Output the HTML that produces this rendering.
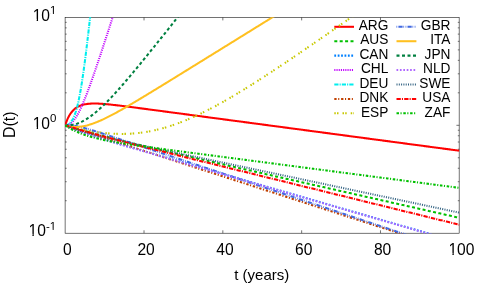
<!DOCTYPE html>
<html><head><meta charset="utf-8"><title>D(t)</title>
<style>html,body{margin:0;padding:0;background:#fff;}body{width:485px;height:291px;overflow:hidden;position:relative;font-family:"Liberation Sans",sans-serif;}</style>
</head><body>
<svg width="485" height="291" viewBox="0 0 485 291" style="position:absolute;left:0;top:0;will-change:transform">
<defs><clipPath id="c"><rect x="64.9" y="17.15" width="394.6" height="216.39999999999998"/></clipPath></defs>
<g stroke="#000" stroke-width="0.55" fill="none">
<rect x="65.1" y="17.5" width="394.04999999999995" height="215.7"/>
<path d="M144.02,233.2 v-2.9 M144.02,17.5 v2.9"/>
<path d="M222.84,233.2 v-2.9 M222.84,17.5 v2.9"/>
<path d="M301.66,233.2 v-2.9 M301.66,17.5 v2.9"/>
<path d="M380.48,233.2 v-2.9 M380.48,17.5 v2.9"/>
<path d="M65.2,125.30 h2.9 M459.3,125.30 h-2.9"/>
<path d="M65.2,200.72 h1.5 M459.3,200.72 h-1.5"/>
<path d="M65.2,181.72 h1.5 M459.3,181.72 h-1.5"/>
<path d="M65.2,168.24 h1.5 M459.3,168.24 h-1.5"/>
<path d="M65.2,157.78 h1.5 M459.3,157.78 h-1.5"/>
<path d="M65.2,149.24 h1.5 M459.3,149.24 h-1.5"/>
<path d="M65.2,142.01 h1.5 M459.3,142.01 h-1.5"/>
<path d="M65.2,135.76 h1.5 M459.3,135.76 h-1.5"/>
<path d="M65.2,130.24 h1.5 M459.3,130.24 h-1.5"/>
<path d="M65.2,92.82 h1.5 M459.3,92.82 h-1.5"/>
<path d="M65.2,73.82 h1.5 M459.3,73.82 h-1.5"/>
<path d="M65.2,60.34 h1.5 M459.3,60.34 h-1.5"/>
<path d="M65.2,49.88 h1.5 M459.3,49.88 h-1.5"/>
<path d="M65.2,41.34 h1.5 M459.3,41.34 h-1.5"/>
<path d="M65.2,34.11 h1.5 M459.3,34.11 h-1.5"/>
<path d="M65.2,27.86 h1.5 M459.3,27.86 h-1.5"/>
<path d="M65.2,22.34 h1.5 M459.3,22.34 h-1.5"/>
</g>
<g fill="none" stroke-linecap="butt" stroke-linejoin="round">
<path clip-path="url(#c)" d="M65.20,125.30 L66.19,122.35 L67.17,119.83 L68.16,117.67 L69.14,115.80 L70.13,114.17 L71.11,112.76 L72.10,111.52 L73.08,110.44 L74.07,109.49 L75.05,108.65 L76.04,107.91 L77.02,107.27 L78.01,106.70 L78.99,106.21 L79.98,105.77 L80.96,105.39 L81.95,105.06 L82.93,104.77 L83.92,104.53 L84.91,104.32 L85.89,104.14 L86.88,103.99 L87.86,103.86 L88.85,103.76 L89.83,103.68 L90.82,103.62 L91.80,103.58 L92.79,103.55 L93.77,103.54 L94.76,103.54 L95.74,103.55 L96.73,103.57 L97.71,103.60 L98.70,103.64 L99.68,103.69 L100.67,103.75 L101.65,103.81 L102.64,103.88 L103.62,103.96 L104.61,104.03 L105.60,104.12 L106.58,104.21 L107.57,104.30 L108.55,104.39 L109.54,104.49 L110.52,104.59 L111.51,104.70 L112.49,104.80 L113.48,104.91 L114.46,105.02 L115.45,105.13 L116.43,105.25 L117.42,105.36 L118.40,105.48 L119.39,105.60 L120.37,105.72 L121.36,105.84 L122.34,105.96 L123.33,106.08 L124.31,106.20 L125.30,106.33 L126.29,106.45 L127.27,106.58 L128.26,106.70 L129.24,106.83 L130.23,106.95 L131.21,107.08 L132.20,107.21 L133.18,107.34 L134.17,107.46 L135.15,107.59 L136.14,107.72 L137.12,107.85 L138.11,107.98 L139.09,108.11 L140.08,108.24 L141.06,108.37 L142.05,108.50 L143.03,108.62 L144.02,108.75 L145.01,108.88 L145.99,109.01 L146.98,109.14 L147.96,109.27 L148.95,109.41 L149.93,109.54 L150.92,109.67 L151.90,109.80 L152.89,109.93 L153.87,110.06 L154.86,110.19 L155.84,110.32 L156.83,110.45 L157.81,110.58 L158.80,110.71 L159.78,110.84 L160.77,110.97 L161.75,111.10 L162.74,111.23 L163.73,111.37 L164.71,111.50 L165.70,111.63 L166.68,111.76 L167.67,111.89 L168.65,112.02 L169.64,112.15 L170.62,112.28 L171.61,112.41 L172.59,112.54 L173.58,112.68 L174.56,112.81 L175.55,112.94 L176.53,113.07 L177.52,113.20 L178.50,113.33 L179.49,113.46 L180.47,113.59 L181.46,113.72 L182.44,113.86 L183.43,113.99 L184.42,114.12 L185.40,114.25 L186.39,114.38 L187.37,114.51 L188.36,114.64 L189.34,114.77 L190.33,114.90 L191.31,115.04 L192.30,115.17 L193.28,115.30 L194.27,115.43 L195.25,115.56 L196.24,115.69 L197.22,115.82 L198.21,115.95 L199.19,116.08 L200.18,116.22 L201.16,116.35 L202.15,116.48 L203.13,116.61 L204.12,116.74 L205.11,116.87 L206.09,117.00 L207.08,117.13 L208.06,117.26 L209.05,117.40 L210.03,117.53 L211.02,117.66 L212.00,117.79 L212.99,117.92 L213.97,118.05 L214.96,118.18 L215.94,118.31 L216.93,118.44 L217.91,118.58 L218.90,118.71 L219.88,118.84 L220.87,118.97 L221.85,119.10 L222.84,119.23 L223.83,119.36 L224.81,119.49 L225.80,119.63 L226.78,119.76 L227.77,119.89 L228.75,120.02 L229.74,120.15 L230.72,120.28 L231.71,120.41 L232.69,120.54 L233.68,120.67 L234.66,120.81 L235.65,120.94 L236.63,121.07 L237.62,121.20 L238.60,121.33 L239.59,121.46 L240.57,121.59 L241.56,121.72 L242.55,121.85 L243.53,121.99 L244.52,122.12 L245.50,122.25 L246.49,122.38 L247.47,122.51 L248.46,122.64 L249.44,122.77 L250.43,122.90 L251.41,123.03 L252.40,123.17 L253.38,123.30 L254.37,123.43 L255.35,123.56 L256.34,123.69 L257.32,123.82 L258.31,123.95 L259.29,124.08 L260.28,124.21 L261.26,124.35 L262.25,124.48 L263.24,124.61 L264.22,124.74 L265.21,124.87 L266.19,125.00 L267.18,125.13 L268.16,125.26 L269.15,125.40 L270.13,125.53 L271.12,125.66 L272.10,125.79 L273.09,125.92 L274.07,126.05 L275.06,126.18 L276.04,126.31 L277.03,126.44 L278.01,126.58 L279.00,126.71 L279.98,126.84 L280.97,126.97 L281.95,127.10 L282.94,127.23 L283.93,127.36 L284.91,127.49 L285.90,127.62 L286.88,127.76 L287.87,127.89 L288.85,128.02 L289.84,128.15 L290.82,128.28 L291.81,128.41 L292.79,128.54 L293.78,128.67 L294.76,128.80 L295.75,128.94 L296.73,129.07 L297.72,129.20 L298.70,129.33 L299.69,129.46 L300.67,129.59 L301.66,129.72 L302.65,129.85 L303.63,129.99 L304.62,130.12 L305.60,130.25 L306.59,130.38 L307.57,130.51 L308.56,130.64 L309.54,130.77 L310.53,130.90 L311.51,131.03 L312.50,131.17 L313.48,131.30 L314.47,131.43 L315.45,131.56 L316.44,131.69 L317.42,131.82 L318.41,131.95 L319.39,132.08 L320.38,132.21 L321.37,132.35 L322.35,132.48 L323.34,132.61 L324.32,132.74 L325.31,132.87 L326.29,133.00 L327.28,133.13 L328.26,133.26 L329.25,133.39 L330.23,133.53 L331.22,133.66 L332.20,133.79 L333.19,133.92 L334.17,134.05 L335.16,134.18 L336.14,134.31 L337.13,134.44 L338.11,134.57 L339.10,134.71 L340.08,134.84 L341.07,134.97 L342.06,135.10 L343.04,135.23 L344.03,135.36 L345.01,135.49 L346.00,135.62 L346.98,135.76 L347.97,135.89 L348.95,136.02 L349.94,136.15 L350.92,136.28 L351.91,136.41 L352.89,136.54 L353.88,136.67 L354.86,136.80 L355.85,136.94 L356.83,137.07 L357.82,137.20 L358.80,137.33 L359.79,137.46 L360.77,137.59 L361.76,137.72 L362.75,137.85 L363.73,137.98 L364.72,138.12 L365.70,138.25 L366.69,138.38 L367.67,138.51 L368.66,138.64 L369.64,138.77 L370.63,138.90 L371.61,139.03 L372.60,139.16 L373.58,139.30 L374.57,139.43 L375.55,139.56 L376.54,139.69 L377.52,139.82 L378.51,139.95 L379.49,140.08 L380.48,140.21 L381.47,140.35 L382.45,140.48 L383.44,140.61 L384.42,140.74 L385.41,140.87 L386.39,141.00 L387.38,141.13 L388.36,141.26 L389.35,141.39 L390.33,141.53 L391.32,141.66 L392.30,141.79 L393.29,141.92 L394.27,142.05 L395.26,142.18 L396.24,142.31 L397.23,142.44 L398.21,142.57 L399.20,142.71 L400.19,142.84 L401.17,142.97 L402.16,143.10 L403.14,143.23 L404.13,143.36 L405.11,143.49 L406.10,143.62 L407.08,143.75 L408.07,143.89 L409.05,144.02 L410.04,144.15 L411.02,144.28 L412.01,144.41 L412.99,144.54 L413.98,144.67 L414.96,144.80 L415.95,144.93 L416.93,145.07 L417.92,145.20 L418.90,145.33 L419.89,145.46 L420.88,145.59 L421.86,145.72 L422.85,145.85 L423.83,145.98 L424.82,146.12 L425.80,146.25 L426.79,146.38 L427.77,146.51 L428.76,146.64 L429.74,146.77 L430.73,146.90 L431.71,147.03 L432.70,147.16 L433.68,147.30 L434.67,147.43 L435.65,147.56 L436.64,147.69 L437.62,147.82 L438.61,147.95 L439.59,148.08 L440.58,148.21 L441.57,148.34 L442.55,148.48 L443.54,148.61 L444.52,148.74 L445.51,148.87 L446.49,149.00 L447.48,149.13 L448.46,149.26 L449.45,149.39 L450.43,149.52 L451.42,149.66 L452.40,149.79 L453.39,149.92 L454.37,150.05 L455.36,150.18 L456.34,150.31 L457.33,150.44 L458.31,150.57 L459.30,150.71" stroke="#ff0000" stroke-width="2.05"/>
<path d="M334.3,26.80 H354.0" stroke="#ff0000" stroke-width="2.05"/>
<path clip-path="url(#c)" d="M65.20,125.30 L66.19,125.60 L67.17,125.90 L68.16,126.20 L69.14,126.49 L70.13,126.78 L71.11,127.08 L72.10,127.37 L73.08,127.66 L74.07,127.94 L75.05,128.23 L76.04,128.52 L77.02,128.80 L78.01,129.08 L78.99,129.36 L79.98,129.64 L80.96,129.92 L81.95,130.20 L82.93,130.48 L83.92,130.75 L84.91,131.03 L85.89,131.30 L86.88,131.57 L87.86,131.84 L88.85,132.11 L89.83,132.38 L90.82,132.65 L91.80,132.91 L92.79,133.18 L93.77,133.44 L94.76,133.71 L95.74,133.97 L96.73,134.23 L97.71,134.50 L98.70,134.76 L99.68,135.02 L100.67,135.27 L101.65,135.53 L102.64,135.79 L103.62,136.05 L104.61,136.30 L105.60,136.56 L106.58,136.81 L107.57,137.06 L108.55,137.32 L109.54,137.57 L110.52,137.82 L111.51,138.07 L112.49,138.32 L113.48,138.57 L114.46,138.82 L115.45,139.07 L116.43,139.32 L117.42,139.57 L118.40,139.81 L119.39,140.06 L120.37,140.30 L121.36,140.55 L122.34,140.79 L123.33,141.04 L124.31,141.28 L125.30,141.53 L126.29,141.77 L127.27,142.01 L128.26,142.25 L129.24,142.49 L130.23,142.73 L131.21,142.98 L132.20,143.22 L133.18,143.46 L134.17,143.69 L135.15,143.93 L136.14,144.17 L137.12,144.41 L138.11,144.65 L139.09,144.89 L140.08,145.12 L141.06,145.36 L142.05,145.60 L143.03,145.83 L144.02,146.07 L145.01,146.31 L145.99,146.54 L146.98,146.78 L147.96,147.01 L148.95,147.25 L149.93,147.48 L150.92,147.71 L151.90,147.95 L152.89,148.18 L153.87,148.41 L154.86,148.65 L155.84,148.88 L156.83,149.11 L157.81,149.34 L158.80,149.58 L159.78,149.81 L160.77,150.04 L161.75,150.27 L162.74,150.50 L163.73,150.73 L164.71,150.96 L165.70,151.19 L166.68,151.43 L167.67,151.66 L168.65,151.89 L169.64,152.12 L170.62,152.35 L171.61,152.57 L172.59,152.80 L173.58,153.03 L174.56,153.26 L175.55,153.49 L176.53,153.72 L177.52,153.95 L178.50,154.18 L179.49,154.41 L180.47,154.63 L181.46,154.86 L182.44,155.09 L183.43,155.32 L184.42,155.55 L185.40,155.77 L186.39,156.00 L187.37,156.23 L188.36,156.46 L189.34,156.68 L190.33,156.91 L191.31,157.14 L192.30,157.36 L193.28,157.59 L194.27,157.82 L195.25,158.04 L196.24,158.27 L197.22,158.50 L198.21,158.72 L199.19,158.95 L200.18,159.17 L201.16,159.40 L202.15,159.63 L203.13,159.85 L204.12,160.08 L205.11,160.30 L206.09,160.53 L207.08,160.75 L208.06,160.98 L209.05,161.21 L210.03,161.43 L211.02,161.66 L212.00,161.88 L212.99,162.11 L213.97,162.33 L214.96,162.56 L215.94,162.78 L216.93,163.01 L217.91,163.23 L218.90,163.46 L219.88,163.68 L220.87,163.90 L221.85,164.13 L222.84,164.35 L223.83,164.58 L224.81,164.80 L225.80,165.03 L226.78,165.25 L227.77,165.48 L228.75,165.70 L229.74,165.92 L230.72,166.15 L231.71,166.37 L232.69,166.60 L233.68,166.82 L234.66,167.04 L235.65,167.27 L236.63,167.49 L237.62,167.72 L238.60,167.94 L239.59,168.16 L240.57,168.39 L241.56,168.61 L242.55,168.83 L243.53,169.06 L244.52,169.28 L245.50,169.51 L246.49,169.73 L247.47,169.95 L248.46,170.18 L249.44,170.40 L250.43,170.62 L251.41,170.85 L252.40,171.07 L253.38,171.29 L254.37,171.52 L255.35,171.74 L256.34,171.96 L257.32,172.19 L258.31,172.41 L259.29,172.63 L260.28,172.86 L261.26,173.08 L262.25,173.30 L263.24,173.53 L264.22,173.75 L265.21,173.97 L266.19,174.19 L267.18,174.42 L268.16,174.64 L269.15,174.86 L270.13,175.09 L271.12,175.31 L272.10,175.53 L273.09,175.76 L274.07,175.98 L275.06,176.20 L276.04,176.42 L277.03,176.65 L278.01,176.87 L279.00,177.09 L279.98,177.32 L280.97,177.54 L281.95,177.76 L282.94,177.98 L283.93,178.21 L284.91,178.43 L285.90,178.65 L286.88,178.88 L287.87,179.10 L288.85,179.32 L289.84,179.54 L290.82,179.77 L291.81,179.99 L292.79,180.21 L293.78,180.44 L294.76,180.66 L295.75,180.88 L296.73,181.10 L297.72,181.33 L298.70,181.55 L299.69,181.77 L300.67,181.99 L301.66,182.22 L302.65,182.44 L303.63,182.66 L304.62,182.88 L305.60,183.11 L306.59,183.33 L307.57,183.55 L308.56,183.77 L309.54,184.00 L310.53,184.22 L311.51,184.44 L312.50,184.66 L313.48,184.89 L314.47,185.11 L315.45,185.33 L316.44,185.56 L317.42,185.78 L318.41,186.00 L319.39,186.22 L320.38,186.45 L321.37,186.67 L322.35,186.89 L323.34,187.11 L324.32,187.34 L325.31,187.56 L326.29,187.78 L327.28,188.00 L328.26,188.22 L329.25,188.45 L330.23,188.67 L331.22,188.89 L332.20,189.11 L333.19,189.34 L334.17,189.56 L335.16,189.78 L336.14,190.00 L337.13,190.23 L338.11,190.45 L339.10,190.67 L340.08,190.89 L341.07,191.12 L342.06,191.34 L343.04,191.56 L344.03,191.78 L345.01,192.01 L346.00,192.23 L346.98,192.45 L347.97,192.67 L348.95,192.90 L349.94,193.12 L350.92,193.34 L351.91,193.56 L352.89,193.79 L353.88,194.01 L354.86,194.23 L355.85,194.45 L356.83,194.67 L357.82,194.90 L358.80,195.12 L359.79,195.34 L360.77,195.56 L361.76,195.79 L362.75,196.01 L363.73,196.23 L364.72,196.45 L365.70,196.68 L366.69,196.90 L367.67,197.12 L368.66,197.34 L369.64,197.57 L370.63,197.79 L371.61,198.01 L372.60,198.23 L373.58,198.45 L374.57,198.68 L375.55,198.90 L376.54,199.12 L377.52,199.34 L378.51,199.57 L379.49,199.79 L380.48,200.01 L381.47,200.23 L382.45,200.46 L383.44,200.68 L384.42,200.90 L385.41,201.12 L386.39,201.34 L387.38,201.57 L388.36,201.79 L389.35,202.01 L390.33,202.23 L391.32,202.46 L392.30,202.68 L393.29,202.90 L394.27,203.12 L395.26,203.35 L396.24,203.57 L397.23,203.79 L398.21,204.01 L399.20,204.23 L400.19,204.46 L401.17,204.68 L402.16,204.90 L403.14,205.12 L404.13,205.35 L405.11,205.57 L406.10,205.79 L407.08,206.01 L408.07,206.24 L409.05,206.46 L410.04,206.68 L411.02,206.90 L412.01,207.12 L412.99,207.35 L413.98,207.57 L414.96,207.79 L415.95,208.01 L416.93,208.24 L417.92,208.46 L418.90,208.68 L419.89,208.90 L420.88,209.13 L421.86,209.35 L422.85,209.57 L423.83,209.79 L424.82,210.01 L425.80,210.24 L426.79,210.46 L427.77,210.68 L428.76,210.90 L429.74,211.13 L430.73,211.35 L431.71,211.57 L432.70,211.79 L433.68,212.02 L434.67,212.24 L435.65,212.46 L436.64,212.68 L437.62,212.90 L438.61,213.13 L439.59,213.35 L440.58,213.57 L441.57,213.79 L442.55,214.02 L443.54,214.24 L444.52,214.46 L445.51,214.68 L446.49,214.90 L447.48,215.13 L448.46,215.35 L449.45,215.57 L450.43,215.79 L451.42,216.02 L452.40,216.24 L453.39,216.46 L454.37,216.68 L455.36,216.91 L456.34,217.13 L457.33,217.35 L458.31,217.57 L459.30,217.79" stroke="#00c000" stroke-width="2.05" stroke-dasharray="3.0 2.4"/>
<path d="M334.3,41.22 H354.0" stroke="#00c000" stroke-width="2.05" stroke-dasharray="3.0 2.4"/>
<path clip-path="url(#c)" d="M65.20,125.30 L66.19,125.77 L67.17,126.23 L68.16,126.68 L69.14,127.12 L70.13,127.56 L71.11,127.98 L72.10,128.40 L73.08,128.81 L74.07,129.21 L75.05,129.61 L76.04,130.00 L77.02,130.38 L78.01,130.76 L78.99,131.14 L79.98,131.51 L80.96,131.87 L81.95,132.23 L82.93,132.58 L83.92,132.93 L84.91,133.28 L85.89,133.63 L86.88,133.97 L87.86,134.30 L88.85,134.64 L89.83,134.97 L90.82,135.30 L91.80,135.63 L92.79,135.95 L93.77,136.27 L94.76,136.59 L95.74,136.91 L96.73,137.22 L97.71,137.54 L98.70,137.85 L99.68,138.16 L100.67,138.47 L101.65,138.78 L102.64,139.09 L103.62,139.39 L104.61,139.70 L105.60,140.00 L106.58,140.30 L107.57,140.60 L108.55,140.90 L109.54,141.20 L110.52,141.50 L111.51,141.80 L112.49,142.09 L113.48,142.39 L114.46,142.69 L115.45,142.98 L116.43,143.28 L117.42,143.57 L118.40,143.86 L119.39,144.16 L120.37,144.45 L121.36,144.74 L122.34,145.03 L123.33,145.33 L124.31,145.62 L125.30,145.91 L126.29,146.20 L127.27,146.49 L128.26,146.78 L129.24,147.07 L130.23,147.36 L131.21,147.64 L132.20,147.93 L133.18,148.22 L134.17,148.51 L135.15,148.80 L136.14,149.09 L137.12,149.37 L138.11,149.66 L139.09,149.95 L140.08,150.24 L141.06,150.53 L142.05,150.81 L143.03,151.10 L144.02,151.39 L145.01,151.67 L145.99,151.96 L146.98,152.25 L147.96,152.53 L148.95,152.82 L149.93,153.11 L150.92,153.39 L151.90,153.68 L152.89,153.97 L153.87,154.25 L154.86,154.54 L155.84,154.82 L156.83,155.11 L157.81,155.40 L158.80,155.68 L159.78,155.97 L160.77,156.25 L161.75,156.54 L162.74,156.83 L163.73,157.11 L164.71,157.40 L165.70,157.68 L166.68,157.97 L167.67,158.25 L168.65,158.54 L169.64,158.83 L170.62,159.11 L171.61,159.40 L172.59,159.68 L173.58,159.97 L174.56,160.25 L175.55,160.54 L176.53,160.82 L177.52,161.11 L178.50,161.40 L179.49,161.68 L180.47,161.97 L181.46,162.25 L182.44,162.54 L183.43,162.82 L184.42,163.11 L185.40,163.39 L186.39,163.68 L187.37,163.96 L188.36,164.25 L189.34,164.53 L190.33,164.82 L191.31,165.11 L192.30,165.39 L193.28,165.68 L194.27,165.96 L195.25,166.25 L196.24,166.53 L197.22,166.82 L198.21,167.10 L199.19,167.39 L200.18,167.67 L201.16,167.96 L202.15,168.24 L203.13,168.53 L204.12,168.81 L205.11,169.10 L206.09,169.39 L207.08,169.67 L208.06,169.96 L209.05,170.24 L210.03,170.53 L211.02,170.81 L212.00,171.10 L212.99,171.38 L213.97,171.67 L214.96,171.95 L215.94,172.24 L216.93,172.52 L217.91,172.81 L218.90,173.09 L219.88,173.38 L220.87,173.66 L221.85,173.95 L222.84,174.24 L223.83,174.52 L224.81,174.81 L225.80,175.09 L226.78,175.38 L227.77,175.66 L228.75,175.95 L229.74,176.23 L230.72,176.52 L231.71,176.80 L232.69,177.09 L233.68,177.37 L234.66,177.66 L235.65,177.94 L236.63,178.23 L237.62,178.51 L238.60,178.80 L239.59,179.09 L240.57,179.37 L241.56,179.66 L242.55,179.94 L243.53,180.23 L244.52,180.51 L245.50,180.80 L246.49,181.08 L247.47,181.37 L248.46,181.65 L249.44,181.94 L250.43,182.22 L251.41,182.51 L252.40,182.79 L253.38,183.08 L254.37,183.36 L255.35,183.65 L256.34,183.93 L257.32,184.22 L258.31,184.51 L259.29,184.79 L260.28,185.08 L261.26,185.36 L262.25,185.65 L263.24,185.93 L264.22,186.22 L265.21,186.50 L266.19,186.79 L267.18,187.07 L268.16,187.36 L269.15,187.64 L270.13,187.93 L271.12,188.21 L272.10,188.50 L273.09,188.78 L274.07,189.07 L275.06,189.35 L276.04,189.64 L277.03,189.93 L278.01,190.21 L279.00,190.50 L279.98,190.78 L280.97,191.07 L281.95,191.35 L282.94,191.64 L283.93,191.92 L284.91,192.21 L285.90,192.49 L286.88,192.78 L287.87,193.06 L288.85,193.35 L289.84,193.63 L290.82,193.92 L291.81,194.20 L292.79,194.49 L293.78,194.77 L294.76,195.06 L295.75,195.35 L296.73,195.63 L297.72,195.92 L298.70,196.20 L299.69,196.49 L300.67,196.77 L301.66,197.06 L302.65,197.34 L303.63,197.63 L304.62,197.91 L305.60,198.20 L306.59,198.48 L307.57,198.77 L308.56,199.05 L309.54,199.34 L310.53,199.62 L311.51,199.91 L312.50,200.19 L313.48,200.48 L314.47,200.77 L315.45,201.05 L316.44,201.34 L317.42,201.62 L318.41,201.91 L319.39,202.19 L320.38,202.48 L321.37,202.76 L322.35,203.05 L323.34,203.33 L324.32,203.62 L325.31,203.90 L326.29,204.19 L327.28,204.47 L328.26,204.76 L329.25,205.04 L330.23,205.33 L331.22,205.61 L332.20,205.90 L333.19,206.19 L334.17,206.47 L335.16,206.76 L336.14,207.04 L337.13,207.33 L338.11,207.61 L339.10,207.90 L340.08,208.18 L341.07,208.47 L342.06,208.75 L343.04,209.04 L344.03,209.32 L345.01,209.61 L346.00,209.89 L346.98,210.18 L347.97,210.46 L348.95,210.75 L349.94,211.03 L350.92,211.32 L351.91,211.61 L352.89,211.89 L353.88,212.18 L354.86,212.46 L355.85,212.75 L356.83,213.03 L357.82,213.32 L358.80,213.60 L359.79,213.89 L360.77,214.17 L361.76,214.46 L362.75,214.74 L363.73,215.03 L364.72,215.31 L365.70,215.60 L366.69,215.88 L367.67,216.17 L368.66,216.45 L369.64,216.74 L370.63,217.03 L371.61,217.31 L372.60,217.60 L373.58,217.88 L374.57,218.17 L375.55,218.45 L376.54,218.74 L377.52,219.02 L378.51,219.31 L379.49,219.59 L380.48,219.88 L381.47,220.16 L382.45,220.45 L383.44,220.73 L384.42,221.02 L385.41,221.30 L386.39,221.59 L387.38,221.87 L388.36,222.16 L389.35,222.45 L390.33,222.73 L391.32,223.02 L392.30,223.30 L393.29,223.59 L394.27,223.87 L395.26,224.16 L396.24,224.44 L397.23,224.73 L398.21,225.01 L399.20,225.30 L400.19,225.58 L401.17,225.87 L402.16,226.15 L403.14,226.44 L404.13,226.72 L405.11,227.01 L406.10,227.29 L407.08,227.58 L408.07,227.87 L409.05,228.15 L410.04,228.44 L411.02,228.72 L412.01,229.01 L412.99,229.29 L413.98,229.58 L414.96,229.86 L415.95,230.15 L416.93,230.43 L417.92,230.72 L418.90,231.00 L419.89,231.29 L420.88,231.57 L421.86,231.86 L422.85,232.14 L423.83,232.43 L424.82,232.72 L425.80,233.00 L426.79,233.29 L427.77,233.57 L428.76,233.86 L429.74,234.14 L430.73,234.43 L431.71,234.71 L432.70,235.00 L433.68,235.28 L434.67,235.57 L435.65,235.85 L436.64,236.14 L437.62,236.42 L438.61,236.71 L439.59,236.99 L440.58,237.28 L441.57,237.56 L442.55,237.85 L443.54,238.14 L444.52,238.42 L445.51,238.71 L446.49,238.99 L447.48,239.28 L448.46,239.56 L449.45,239.85 L450.43,240.13 L451.42,240.42 L452.40,240.70 L453.39,240.99 L454.37,241.27 L455.36,241.56 L456.34,241.84 L457.33,242.13 L458.31,242.41 L459.30,242.70" stroke="#0080ff" stroke-width="2.05" stroke-dasharray="1.8 1.6" stroke-dashoffset="0.05" transform="translate(0,-0.25)"/>
<path d="M334.3,55.64 H354.0" stroke="#0080ff" stroke-width="2.05" stroke-dasharray="1.8 1.6"/>
<path clip-path="url(#c)" d="M65.20,125.30 L66.19,125.39 L67.17,125.32 L68.16,125.07 L69.14,124.65 L70.13,124.06 L71.11,123.31 L72.10,122.40 L73.08,121.32 L74.07,120.10 L75.05,118.72 L76.04,117.21 L77.02,115.57 L78.01,113.80 L78.99,111.91 L79.98,109.92 L80.96,107.83 L81.95,105.64 L82.93,103.36 L83.92,101.01 L84.91,98.59 L85.89,96.10 L86.88,93.55 L87.86,90.95 L88.85,88.30 L89.83,85.60 L90.82,82.87 L91.80,80.10 L92.79,77.30 L93.77,74.47 L94.76,71.61 L95.74,68.73 L96.73,65.83 L97.71,62.91 L98.70,59.98 L99.68,57.03 L100.67,54.07 L101.65,51.10 L102.64,48.11 L103.62,45.12 L104.61,42.12 L105.60,39.11 L106.58,36.10 L107.57,33.08 L108.55,30.05 L109.54,27.02 L110.52,23.99 L111.51,20.95 L112.49,17.91 L113.48,14.87 L114.46,11.83 L115.45,8.78 L116.43,5.73 L117.42,2.68 L118.40,-0.37 L119.39,-3.43 L120.37,-6.48 L121.36,-9.54 L122.34,-12.60 L123.33,-15.65" stroke="#c000ff" stroke-width="2.05" stroke-dasharray="1.1 1.1"/>
<path d="M334.3,70.06 H354.0" stroke="#c000ff" stroke-width="2.05" stroke-dasharray="1.1 1.1"/>
<path clip-path="url(#c)" d="M65.20,125.30 L66.19,125.13 L67.17,124.84 L68.16,124.39 L69.14,123.75 L70.13,122.90 L71.11,121.80 L72.10,120.40 L73.08,118.66 L74.07,116.54 L75.05,113.99 L76.04,110.98 L77.02,107.48 L78.01,103.45 L78.99,98.89 L79.98,93.80 L80.96,88.19 L81.95,82.08 L82.93,75.50 L83.92,68.49 L84.91,61.09 L85.89,53.34 L86.88,45.29 L87.86,36.98 L88.85,28.45 L89.83,19.73 L90.82,10.86 L91.80,1.85 L92.79,-7.27 L93.77,-16.48" stroke="#00eeee" stroke-width="2.05" stroke-dasharray="4.2 1.1 1.1 1.1"/>
<path d="M334.3,84.48 H354.0" stroke="#00eeee" stroke-width="2.05" stroke-dasharray="4.2 1.1 1.1 1.1"/>
<path clip-path="url(#c)" d="M65.20,125.30 L66.19,125.62 L67.17,125.94 L68.16,126.26 L69.14,126.59 L70.13,126.91 L71.11,127.23 L72.10,127.55 L73.08,127.87 L74.07,128.19 L75.05,128.51 L76.04,128.83 L77.02,129.15 L78.01,129.47 L78.99,129.80 L79.98,130.12 L80.96,130.44 L81.95,130.76 L82.93,131.08 L83.92,131.40 L84.91,131.72 L85.89,132.04 L86.88,132.36 L87.86,132.68 L88.85,133.00 L89.83,133.32 L90.82,133.64 L91.80,133.96 L92.79,134.28 L93.77,134.60 L94.76,134.92 L95.74,135.24 L96.73,135.56 L97.71,135.88 L98.70,136.21 L99.68,136.53 L100.67,136.85 L101.65,137.17 L102.64,137.49 L103.62,137.81 L104.61,138.13 L105.60,138.45 L106.58,138.77 L107.57,139.08 L108.55,139.40 L109.54,139.72 L110.52,140.04 L111.51,140.36 L112.49,140.68 L113.48,141.00 L114.46,141.32 L115.45,141.64 L116.43,141.96 L117.42,142.28 L118.40,142.60 L119.39,142.92 L120.37,143.24 L121.36,143.56 L122.34,143.88 L123.33,144.20 L124.31,144.52 L125.30,144.84 L126.29,145.16 L127.27,145.48 L128.26,145.80 L129.24,146.12 L130.23,146.43 L131.21,146.75 L132.20,147.07 L133.18,147.39 L134.17,147.71 L135.15,148.03 L136.14,148.35 L137.12,148.67 L138.11,148.99 L139.09,149.31 L140.08,149.63 L141.06,149.95 L142.05,150.26 L143.03,150.58 L144.02,150.90 L145.01,151.22 L145.99,151.54 L146.98,151.86 L147.96,152.18 L148.95,152.50 L149.93,152.82 L150.92,153.14 L151.90,153.45 L152.89,153.77 L153.87,154.09 L154.86,154.41 L155.84,154.73 L156.83,155.05 L157.81,155.37 L158.80,155.69 L159.78,156.00 L160.77,156.32 L161.75,156.64 L162.74,156.96 L163.73,157.28 L164.71,157.60 L165.70,157.92 L166.68,158.23 L167.67,158.55 L168.65,158.87 L169.64,159.19 L170.62,159.51 L171.61,159.83 L172.59,160.15 L173.58,160.46 L174.56,160.78 L175.55,161.10 L176.53,161.42 L177.52,161.74 L178.50,162.06 L179.49,162.37 L180.47,162.69 L181.46,163.01 L182.44,163.33 L183.43,163.65 L184.42,163.97 L185.40,164.29 L186.39,164.60 L187.37,164.92 L188.36,165.24 L189.34,165.56 L190.33,165.88 L191.31,166.19 L192.30,166.51 L193.28,166.83 L194.27,167.15 L195.25,167.47 L196.24,167.79 L197.22,168.10 L198.21,168.42 L199.19,168.74 L200.18,169.06 L201.16,169.38 L202.15,169.69 L203.13,170.01 L204.12,170.33 L205.11,170.65 L206.09,170.97 L207.08,171.29 L208.06,171.60 L209.05,171.92 L210.03,172.24 L211.02,172.56 L212.00,172.88 L212.99,173.19 L213.97,173.51 L214.96,173.83 L215.94,174.15 L216.93,174.47 L217.91,174.78 L218.90,175.10 L219.88,175.42 L220.87,175.74 L221.85,176.06 L222.84,176.37 L223.83,176.69 L224.81,177.01 L225.80,177.33 L226.78,177.64 L227.77,177.96 L228.75,178.28 L229.74,178.60 L230.72,178.92 L231.71,179.23 L232.69,179.55 L233.68,179.87 L234.66,180.19 L235.65,180.51 L236.63,180.82 L237.62,181.14 L238.60,181.46 L239.59,181.78 L240.57,182.09 L241.56,182.41 L242.55,182.73 L243.53,183.05 L244.52,183.37 L245.50,183.68 L246.49,184.00 L247.47,184.32 L248.46,184.64 L249.44,184.95 L250.43,185.27 L251.41,185.59 L252.40,185.91 L253.38,186.23 L254.37,186.54 L255.35,186.86 L256.34,187.18 L257.32,187.50 L258.31,187.81 L259.29,188.13 L260.28,188.45 L261.26,188.77 L262.25,189.08 L263.24,189.40 L264.22,189.72 L265.21,190.04 L266.19,190.35 L267.18,190.67 L268.16,190.99 L269.15,191.31 L270.13,191.63 L271.12,191.94 L272.10,192.26 L273.09,192.58 L274.07,192.90 L275.06,193.21 L276.04,193.53 L277.03,193.85 L278.01,194.17 L279.00,194.48 L279.98,194.80 L280.97,195.12 L281.95,195.44 L282.94,195.75 L283.93,196.07 L284.91,196.39 L285.90,196.71 L286.88,197.02 L287.87,197.34 L288.85,197.66 L289.84,197.98 L290.82,198.29 L291.81,198.61 L292.79,198.93 L293.78,199.25 L294.76,199.56 L295.75,199.88 L296.73,200.20 L297.72,200.52 L298.70,200.83 L299.69,201.15 L300.67,201.47 L301.66,201.79 L302.65,202.10 L303.63,202.42 L304.62,202.74 L305.60,203.06 L306.59,203.37 L307.57,203.69 L308.56,204.01 L309.54,204.33 L310.53,204.64 L311.51,204.96 L312.50,205.28 L313.48,205.60 L314.47,205.91 L315.45,206.23 L316.44,206.55 L317.42,206.87 L318.41,207.18 L319.39,207.50 L320.38,207.82 L321.37,208.13 L322.35,208.45 L323.34,208.77 L324.32,209.09 L325.31,209.40 L326.29,209.72 L327.28,210.04 L328.26,210.36 L329.25,210.67 L330.23,210.99 L331.22,211.31 L332.20,211.63 L333.19,211.94 L334.17,212.26 L335.16,212.58 L336.14,212.90 L337.13,213.21 L338.11,213.53 L339.10,213.85 L340.08,214.16 L341.07,214.48 L342.06,214.80 L343.04,215.12 L344.03,215.43 L345.01,215.75 L346.00,216.07 L346.98,216.39 L347.97,216.70 L348.95,217.02 L349.94,217.34 L350.92,217.66 L351.91,217.97 L352.89,218.29 L353.88,218.61 L354.86,218.92 L355.85,219.24 L356.83,219.56 L357.82,219.88 L358.80,220.19 L359.79,220.51 L360.77,220.83 L361.76,221.15 L362.75,221.46 L363.73,221.78 L364.72,222.10 L365.70,222.41 L366.69,222.73 L367.67,223.05 L368.66,223.37 L369.64,223.68 L370.63,224.00 L371.61,224.32 L372.60,224.64 L373.58,224.95 L374.57,225.27 L375.55,225.59 L376.54,225.91 L377.52,226.22 L378.51,226.54 L379.49,226.86 L380.48,227.17 L381.47,227.49 L382.45,227.81 L383.44,228.13 L384.42,228.44 L385.41,228.76 L386.39,229.08 L387.38,229.39 L388.36,229.71 L389.35,230.03 L390.33,230.35 L391.32,230.66 L392.30,230.98 L393.29,231.30 L394.27,231.62 L395.26,231.93 L396.24,232.25 L397.23,232.57 L398.21,232.88 L399.20,233.20 L400.19,233.52 L401.17,233.84 L402.16,234.15 L403.14,234.47 L404.13,234.79 L405.11,235.11 L406.10,235.42 L407.08,235.74 L408.07,236.06 L409.05,236.37 L410.04,236.69 L411.02,237.01 L412.01,237.33 L412.99,237.64 L413.98,237.96 L414.96,238.28 L415.95,238.59 L416.93,238.91 L417.92,239.23 L418.90,239.55 L419.89,239.86 L420.88,240.18 L421.86,240.50 L422.85,240.82 L423.83,241.13 L424.82,241.45 L425.80,241.77 L426.79,242.08 L427.77,242.40 L428.76,242.72 L429.74,243.04 L430.73,243.35 L431.71,243.67 L432.70,243.99 L433.68,244.30 L434.67,244.62 L435.65,244.94 L436.64,245.26 L437.62,245.57 L438.61,245.89 L439.59,246.21 L440.58,246.52 L441.57,246.84 L442.55,247.16 L443.54,247.48 L444.52,247.79 L445.51,248.11 L446.49,248.43 L447.48,248.75 L448.46,249.06 L449.45,249.38 L450.43,249.70 L451.42,250.01 L452.40,250.33 L453.39,250.65 L454.37,250.97 L455.36,251.28 L456.34,251.60 L457.33,251.92 L458.31,252.23 L459.30,252.55" stroke="#c04000" stroke-width="2.05" stroke-dasharray="2.3 1.6 1.1 1.8"/>
<path d="M334.3,98.90 H354.0" stroke="#c04000" stroke-width="2.05" stroke-dasharray="2.3 1.6 1.1 1.8"/>
<path clip-path="url(#c)" d="M65.20,125.30 L66.19,125.57 L67.17,125.83 L68.16,126.10 L69.14,126.35 L70.13,126.61 L71.11,126.86 L72.10,127.11 L73.08,127.36 L74.07,127.60 L75.05,127.84 L76.04,128.07 L77.02,128.30 L78.01,128.53 L78.99,128.75 L79.98,128.97 L80.96,129.19 L81.95,129.40 L82.93,129.61 L83.92,129.81 L84.91,130.01 L85.89,130.20 L86.88,130.40 L87.86,130.58 L88.85,130.76 L89.83,130.94 L90.82,131.11 L91.80,131.28 L92.79,131.45 L93.77,131.61 L94.76,131.76 L95.74,131.91 L96.73,132.05 L97.71,132.19 L98.70,132.33 L99.68,132.46 L100.67,132.58 L101.65,132.70 L102.64,132.82 L103.62,132.92 L104.61,133.03 L105.60,133.12 L106.58,133.22 L107.57,133.30 L108.55,133.39 L109.54,133.46 L110.52,133.53 L111.51,133.60 L112.49,133.65 L113.48,133.71 L114.46,133.75 L115.45,133.79 L116.43,133.83 L117.42,133.86 L118.40,133.88 L119.39,133.90 L120.37,133.91 L121.36,133.91 L122.34,133.91 L123.33,133.90 L124.31,133.89 L125.30,133.87 L126.29,133.84 L127.27,133.81 L128.26,133.77 L129.24,133.72 L130.23,133.67 L131.21,133.61 L132.20,133.55 L133.18,133.47 L134.17,133.39 L135.15,133.31 L136.14,133.22 L137.12,133.12 L138.11,133.01 L139.09,132.90 L140.08,132.78 L141.06,132.66 L142.05,132.53 L143.03,132.39 L144.02,132.25 L145.01,132.09 L145.99,131.94 L146.98,131.77 L147.96,131.60 L148.95,131.42 L149.93,131.24 L150.92,131.05 L151.90,130.85 L152.89,130.65 L153.87,130.44 L154.86,130.22 L155.84,129.99 L156.83,129.76 L157.81,129.53 L158.80,129.29 L159.78,129.04 L160.77,128.78 L161.75,128.52 L162.74,128.25 L163.73,127.98 L164.71,127.70 L165.70,127.41 L166.68,127.12 L167.67,126.82 L168.65,126.51 L169.64,126.20 L170.62,125.88 L171.61,125.56 L172.59,125.23 L173.58,124.90 L174.56,124.56 L175.55,124.21 L176.53,123.86 L177.52,123.50 L178.50,123.14 L179.49,122.77 L180.47,122.40 L181.46,122.02 L182.44,121.63 L183.43,121.24 L184.42,120.85 L185.40,120.45 L186.39,120.04 L187.37,119.63 L188.36,119.21 L189.34,118.79 L190.33,118.37 L191.31,117.94 L192.30,117.50 L193.28,117.06 L194.27,116.62 L195.25,116.17 L196.24,115.72 L197.22,115.26 L198.21,114.79 L199.19,114.33 L200.18,113.86 L201.16,113.38 L202.15,112.90 L203.13,112.42 L204.12,111.93 L205.11,111.44 L206.09,110.94 L207.08,110.44 L208.06,109.94 L209.05,109.43 L210.03,108.92 L211.02,108.41 L212.00,107.89 L212.99,107.37 L213.97,106.84 L214.96,106.32 L215.94,105.78 L216.93,105.25 L217.91,104.71 L218.90,104.17 L219.88,103.62 L220.87,103.08 L221.85,102.53 L222.84,101.97 L223.83,101.42 L224.81,100.86 L225.80,100.30 L226.78,99.73 L227.77,99.16 L228.75,98.59 L229.74,98.02 L230.72,97.44 L231.71,96.87 L232.69,96.29 L233.68,95.70 L234.66,95.12 L235.65,94.53 L236.63,93.94 L237.62,93.35 L238.60,92.75 L239.59,92.16 L240.57,91.56 L241.56,90.96 L242.55,90.35 L243.53,89.75 L244.52,89.14 L245.50,88.53 L246.49,87.92 L247.47,87.31 L248.46,86.70 L249.44,86.08 L250.43,85.46 L251.41,84.84 L252.40,84.22 L253.38,83.60 L254.37,82.98 L255.35,82.35 L256.34,81.72 L257.32,81.09 L258.31,80.46 L259.29,79.83 L260.28,79.20 L261.26,78.56 L262.25,77.93 L263.24,77.29 L264.22,76.65 L265.21,76.01 L266.19,75.37 L267.18,74.73 L268.16,74.09 L269.15,73.44 L270.13,72.80 L271.12,72.15 L272.10,71.50 L273.09,70.85 L274.07,70.20 L275.06,69.55 L276.04,68.90 L277.03,68.25 L278.01,67.59 L279.00,66.94 L279.98,66.28 L280.97,65.62 L281.95,64.97 L282.94,64.31 L283.93,63.65 L284.91,62.99 L285.90,62.33 L286.88,61.67 L287.87,61.00 L288.85,60.34 L289.84,59.68 L290.82,59.01 L291.81,58.35 L292.79,57.68 L293.78,57.01 L294.76,56.35 L295.75,55.68 L296.73,55.01 L297.72,54.34 L298.70,53.67 L299.69,53.00 L300.67,52.33 L301.66,51.66 L302.65,50.99 L303.63,50.31 L304.62,49.64 L305.60,48.97 L306.59,48.29 L307.57,47.62 L308.56,46.94 L309.54,46.27 L310.53,45.59 L311.51,44.91 L312.50,44.24 L313.48,43.56 L314.47,42.88 L315.45,42.20 L316.44,41.53 L317.42,40.85 L318.41,40.17 L319.39,39.49 L320.38,38.81 L321.37,38.13 L322.35,37.45 L323.34,36.77 L324.32,36.08 L325.31,35.40 L326.29,34.72 L327.28,34.04 L328.26,33.35 L329.25,32.67 L330.23,31.99 L331.22,31.31 L332.20,30.62 L333.19,29.94 L334.17,29.25 L335.16,28.57 L336.14,27.88 L337.13,27.20 L338.11,26.51 L339.10,25.83 L340.08,25.14 L341.07,24.46 L342.06,23.77 L343.04,23.08 L344.03,22.40 L345.01,21.71 L346.00,21.02 L346.98,20.34 L347.97,19.65 L348.95,18.96 L349.94,18.27 L350.92,17.58 L351.91,16.90 L352.89,16.21 L353.88,15.52 L354.86,14.83 L355.85,14.14 L356.83,13.45 L357.82,12.76 L358.80,12.08 L359.79,11.39 L360.77,10.70 L361.76,10.01 L362.75,9.32 L363.73,8.63 L364.72,7.94 L365.70,7.25 L366.69,6.56 L367.67,5.87 L368.66,5.18 L369.64,4.49 L370.63,3.80 L371.61,3.10 L372.60,2.41 L373.58,1.72 L374.57,1.03 L375.55,0.34 L376.54,-0.35 L377.52,-1.04 L378.51,-1.73 L379.49,-2.43 L380.48,-3.12 L381.47,-3.81 L382.45,-4.50 L383.44,-5.19 L384.42,-5.88 L385.41,-6.58 L386.39,-7.27 L387.38,-7.96 L388.36,-8.65 L389.35,-9.35 L390.33,-10.04 L391.32,-10.73 L392.30,-11.42 L393.29,-12.12 L394.27,-12.81" stroke="#c8c800" stroke-width="2.05" stroke-dasharray="1.5 1.2 1.5 4.0"/>
<path d="M334.3,113.32 H354.0" stroke="#c8c800" stroke-width="2.05" stroke-dasharray="1.5 1.2 1.5 4.0"/>
<path clip-path="url(#c)" d="M65.20,125.30 L66.19,125.20 L67.17,125.15 L68.16,125.13 L69.14,125.15 L70.13,125.20 L71.11,125.28 L72.10,125.38 L73.08,125.51 L74.07,125.65 L75.05,125.82 L76.04,126.00 L77.02,126.19 L78.01,126.40 L78.99,126.62 L79.98,126.85 L80.96,127.09 L81.95,127.33 L82.93,127.59 L83.92,127.85 L84.91,128.12 L85.89,128.40 L86.88,128.68 L87.86,128.96 L88.85,129.25 L89.83,129.54 L90.82,129.84 L91.80,130.14 L92.79,130.44 L93.77,130.74 L94.76,131.05 L95.74,131.36 L96.73,131.67 L97.71,131.98 L98.70,132.29 L99.68,132.61 L100.67,132.93 L101.65,133.24 L102.64,133.56 L103.62,133.88 L104.61,134.20 L105.60,134.52 L106.58,134.85 L107.57,135.17 L108.55,135.49 L109.54,135.81 L110.52,136.14 L111.51,136.46 L112.49,136.79 L113.48,137.11 L114.46,137.44 L115.45,137.76 L116.43,138.09 L117.42,138.42 L118.40,138.74 L119.39,139.07 L120.37,139.40 L121.36,139.72 L122.34,140.05 L123.33,140.38 L124.31,140.71 L125.30,141.03 L126.29,141.36 L127.27,141.69 L128.26,142.02 L129.24,142.34 L130.23,142.67 L131.21,143.00 L132.20,143.33 L133.18,143.66 L134.17,143.98 L135.15,144.31 L136.14,144.64 L137.12,144.97 L138.11,145.30 L139.09,145.63 L140.08,145.95 L141.06,146.28 L142.05,146.61 L143.03,146.94 L144.02,147.27 L145.01,147.60 L145.99,147.92 L146.98,148.25 L147.96,148.58 L148.95,148.91 L149.93,149.24 L150.92,149.57 L151.90,149.89 L152.89,150.22 L153.87,150.55 L154.86,150.88 L155.84,151.21 L156.83,151.54 L157.81,151.87 L158.80,152.19 L159.78,152.52 L160.77,152.85 L161.75,153.18 L162.74,153.51 L163.73,153.84 L164.71,154.16 L165.70,154.49 L166.68,154.82 L167.67,155.15 L168.65,155.48 L169.64,155.81 L170.62,156.14 L171.61,156.46 L172.59,156.79 L173.58,157.12 L174.56,157.45 L175.55,157.78 L176.53,158.11 L177.52,158.44 L178.50,158.76 L179.49,159.09 L180.47,159.42 L181.46,159.75 L182.44,160.08 L183.43,160.41 L184.42,160.73 L185.40,161.06 L186.39,161.39 L187.37,161.72 L188.36,162.05 L189.34,162.38 L190.33,162.71 L191.31,163.03 L192.30,163.36 L193.28,163.69 L194.27,164.02 L195.25,164.35 L196.24,164.68 L197.22,165.01 L198.21,165.33 L199.19,165.66 L200.18,165.99 L201.16,166.32 L202.15,166.65 L203.13,166.98 L204.12,167.31 L205.11,167.63 L206.09,167.96 L207.08,168.29 L208.06,168.62 L209.05,168.95 L210.03,169.28 L211.02,169.60 L212.00,169.93 L212.99,170.26 L213.97,170.59 L214.96,170.92 L215.94,171.25 L216.93,171.58 L217.91,171.90 L218.90,172.23 L219.88,172.56 L220.87,172.89 L221.85,173.22 L222.84,173.55 L223.83,173.88 L224.81,174.20 L225.80,174.53 L226.78,174.86 L227.77,175.19 L228.75,175.52 L229.74,175.85 L230.72,176.17 L231.71,176.50 L232.69,176.83 L233.68,177.16 L234.66,177.49 L235.65,177.82 L236.63,178.15 L237.62,178.47 L238.60,178.80 L239.59,179.13 L240.57,179.46 L241.56,179.79 L242.55,180.12 L243.53,180.45 L244.52,180.77 L245.50,181.10 L246.49,181.43 L247.47,181.76 L248.46,182.09 L249.44,182.42 L250.43,182.74 L251.41,183.07 L252.40,183.40 L253.38,183.73 L254.37,184.06 L255.35,184.39 L256.34,184.72 L257.32,185.04 L258.31,185.37 L259.29,185.70 L260.28,186.03 L261.26,186.36 L262.25,186.69 L263.24,187.02 L264.22,187.34 L265.21,187.67 L266.19,188.00 L267.18,188.33 L268.16,188.66 L269.15,188.99 L270.13,189.32 L271.12,189.64 L272.10,189.97 L273.09,190.30 L274.07,190.63 L275.06,190.96 L276.04,191.29 L277.03,191.61 L278.01,191.94 L279.00,192.27 L279.98,192.60 L280.97,192.93 L281.95,193.26 L282.94,193.59 L283.93,193.91 L284.91,194.24 L285.90,194.57 L286.88,194.90 L287.87,195.23 L288.85,195.56 L289.84,195.89 L290.82,196.21 L291.81,196.54 L292.79,196.87 L293.78,197.20 L294.76,197.53 L295.75,197.86 L296.73,198.18 L297.72,198.51 L298.70,198.84 L299.69,199.17 L300.67,199.50 L301.66,199.83 L302.65,200.16 L303.63,200.48 L304.62,200.81 L305.60,201.14 L306.59,201.47 L307.57,201.80 L308.56,202.13 L309.54,202.46 L310.53,202.78 L311.51,203.11 L312.50,203.44 L313.48,203.77 L314.47,204.10 L315.45,204.43 L316.44,204.76 L317.42,205.08 L318.41,205.41 L319.39,205.74 L320.38,206.07 L321.37,206.40 L322.35,206.73 L323.34,207.05 L324.32,207.38 L325.31,207.71 L326.29,208.04 L327.28,208.37 L328.26,208.70 L329.25,209.03 L330.23,209.35 L331.22,209.68 L332.20,210.01 L333.19,210.34 L334.17,210.67 L335.16,211.00 L336.14,211.33 L337.13,211.65 L338.11,211.98 L339.10,212.31 L340.08,212.64 L341.07,212.97 L342.06,213.30 L343.04,213.62 L344.03,213.95 L345.01,214.28 L346.00,214.61 L346.98,214.94 L347.97,215.27 L348.95,215.60 L349.94,215.92 L350.92,216.25 L351.91,216.58 L352.89,216.91 L353.88,217.24 L354.86,217.57 L355.85,217.90 L356.83,218.22 L357.82,218.55 L358.80,218.88 L359.79,219.21 L360.77,219.54 L361.76,219.87 L362.75,220.20 L363.73,220.52 L364.72,220.85 L365.70,221.18 L366.69,221.51 L367.67,221.84 L368.66,222.17 L369.64,222.49 L370.63,222.82 L371.61,223.15 L372.60,223.48 L373.58,223.81 L374.57,224.14 L375.55,224.47 L376.54,224.79 L377.52,225.12 L378.51,225.45 L379.49,225.78 L380.48,226.11 L381.47,226.44 L382.45,226.77 L383.44,227.09 L384.42,227.42 L385.41,227.75 L386.39,228.08 L387.38,228.41 L388.36,228.74 L389.35,229.06 L390.33,229.39 L391.32,229.72 L392.30,230.05 L393.29,230.38 L394.27,230.71 L395.26,231.04 L396.24,231.36 L397.23,231.69 L398.21,232.02 L399.20,232.35 L400.19,232.68 L401.17,233.01 L402.16,233.34 L403.14,233.66 L404.13,233.99 L405.11,234.32 L406.10,234.65 L407.08,234.98 L408.07,235.31 L409.05,235.63 L410.04,235.96 L411.02,236.29 L412.01,236.62 L412.99,236.95 L413.98,237.28 L414.96,237.61 L415.95,237.93 L416.93,238.26 L417.92,238.59 L418.90,238.92 L419.89,239.25 L420.88,239.58 L421.86,239.91 L422.85,240.23 L423.83,240.56 L424.82,240.89 L425.80,241.22 L426.79,241.55 L427.77,241.88 L428.76,242.21 L429.74,242.53 L430.73,242.86 L431.71,243.19 L432.70,243.52 L433.68,243.85 L434.67,244.18 L435.65,244.50 L436.64,244.83 L437.62,245.16 L438.61,245.49 L439.59,245.82 L440.58,246.15 L441.57,246.48 L442.55,246.80 L443.54,247.13 L444.52,247.46 L445.51,247.79 L446.49,248.12 L447.48,248.45 L448.46,248.78 L449.45,249.10 L450.43,249.43 L451.42,249.76 L452.40,250.09 L453.39,250.42 L454.37,250.75 L455.36,251.07 L456.34,251.40 L457.33,251.73 L458.31,252.06 L459.30,252.39" stroke="#4169e1" stroke-width="2.05" stroke-dasharray="4.2 0.8 0.7 1.5 0.7 1.2"/>
<path d="M396.5,26.80 H416.4" stroke="#4169e1" stroke-width="2.05" stroke-dasharray="4.2 0.8 0.7 1.5 0.7 1.2" stroke-dashoffset="7.2"/>
<path clip-path="url(#c)" d="M65.20,125.30 L66.19,125.61 L67.17,125.89 L68.16,126.14 L69.14,126.35 L70.13,126.53 L71.11,126.68 L72.10,126.80 L73.08,126.88 L74.07,126.94 L75.05,126.97 L76.04,126.97 L77.02,126.95 L78.01,126.90 L78.99,126.83 L79.98,126.73 L80.96,126.60 L81.95,126.46 L82.93,126.29 L83.92,126.11 L84.91,125.90 L85.89,125.67 L86.88,125.43 L87.86,125.16 L88.85,124.88 L89.83,124.59 L90.82,124.28 L91.80,123.95 L92.79,123.61 L93.77,123.26 L94.76,122.89 L95.74,122.51 L96.73,122.12 L97.71,121.72 L98.70,121.30 L99.68,120.88 L100.67,120.45 L101.65,120.01 L102.64,119.56 L103.62,119.10 L104.61,118.63 L105.60,118.15 L106.58,117.67 L107.57,117.18 L108.55,116.69 L109.54,116.19 L110.52,115.68 L111.51,115.17 L112.49,114.65 L113.48,114.13 L114.46,113.60 L115.45,113.07 L116.43,112.53 L117.42,111.99 L118.40,111.45 L119.39,110.90 L120.37,110.35 L121.36,109.80 L122.34,109.24 L123.33,108.68 L124.31,108.12 L125.30,107.55 L126.29,106.98 L127.27,106.41 L128.26,105.84 L129.24,105.27 L130.23,104.69 L131.21,104.11 L132.20,103.53 L133.18,102.95 L134.17,102.37 L135.15,101.78 L136.14,101.20 L137.12,100.61 L138.11,100.02 L139.09,99.43 L140.08,98.84 L141.06,98.25 L142.05,97.66 L143.03,97.07 L144.02,96.47 L145.01,95.88 L145.99,95.28 L146.98,94.68 L147.96,94.09 L148.95,93.49 L149.93,92.89 L150.92,92.29 L151.90,91.69 L152.89,91.09 L153.87,90.49 L154.86,89.89 L155.84,89.28 L156.83,88.68 L157.81,88.08 L158.80,87.48 L159.78,86.87 L160.77,86.27 L161.75,85.66 L162.74,85.06 L163.73,84.46 L164.71,83.85 L165.70,83.25 L166.68,82.64 L167.67,82.03 L168.65,81.43 L169.64,80.82 L170.62,80.22 L171.61,79.61 L172.59,79.00 L173.58,78.40 L174.56,77.79 L175.55,77.18 L176.53,76.57 L177.52,75.97 L178.50,75.36 L179.49,74.75 L180.47,74.14 L181.46,73.54 L182.44,72.93 L183.43,72.32 L184.42,71.71 L185.40,71.10 L186.39,70.50 L187.37,69.89 L188.36,69.28 L189.34,68.67 L190.33,68.06 L191.31,67.45 L192.30,66.84 L193.28,66.24 L194.27,65.63 L195.25,65.02 L196.24,64.41 L197.22,63.80 L198.21,63.19 L199.19,62.58 L200.18,61.97 L201.16,61.37 L202.15,60.76 L203.13,60.15 L204.12,59.54 L205.11,58.93 L206.09,58.32 L207.08,57.71 L208.06,57.10 L209.05,56.49 L210.03,55.88 L211.02,55.27 L212.00,54.66 L212.99,54.06 L213.97,53.45 L214.96,52.84 L215.94,52.23 L216.93,51.62 L217.91,51.01 L218.90,50.40 L219.88,49.79 L220.87,49.18 L221.85,48.57 L222.84,47.96 L223.83,47.35 L224.81,46.74 L225.80,46.13 L226.78,45.52 L227.77,44.91 L228.75,44.31 L229.74,43.70 L230.72,43.09 L231.71,42.48 L232.69,41.87 L233.68,41.26 L234.66,40.65 L235.65,40.04 L236.63,39.43 L237.62,38.82 L238.60,38.21 L239.59,37.60 L240.57,36.99 L241.56,36.38 L242.55,35.77 L243.53,35.16 L244.52,34.55 L245.50,33.94 L246.49,33.33 L247.47,32.73 L248.46,32.12 L249.44,31.51 L250.43,30.90 L251.41,30.29 L252.40,29.68 L253.38,29.07 L254.37,28.46 L255.35,27.85 L256.34,27.24 L257.32,26.63 L258.31,26.02 L259.29,25.41 L260.28,24.80 L261.26,24.19 L262.25,23.58 L263.24,22.97 L264.22,22.36 L265.21,21.75 L266.19,21.14 L267.18,20.53 L268.16,19.93 L269.15,19.32 L270.13,18.71 L271.12,18.10 L272.10,17.49 L273.09,16.88 L274.07,16.27 L275.06,15.66 L276.04,15.05 L277.03,14.44 L278.01,13.83 L279.00,13.22 L279.98,12.61 L280.97,12.00 L281.95,11.39 L282.94,10.78 L283.93,10.17 L284.91,9.56 L285.90,8.95 L286.88,8.34 L287.87,7.73 L288.85,7.13 L289.84,6.52 L290.82,5.91 L291.81,5.30 L292.79,4.69 L293.78,4.08 L294.76,3.47 L295.75,2.86 L296.73,2.25 L297.72,1.64 L298.70,1.03 L299.69,0.42 L300.67,-0.19 L301.66,-0.80 L302.65,-1.41 L303.63,-2.02 L304.62,-2.63 L305.60,-3.24 L306.59,-3.85 L307.57,-4.46 L308.56,-5.07 L309.54,-5.68 L310.53,-6.28 L311.51,-6.89 L312.50,-7.50 L313.48,-8.11 L314.47,-8.72 L315.45,-9.33 L316.44,-9.94 L317.42,-10.55 L318.41,-11.16 L319.39,-11.77 L320.38,-12.38 L321.37,-12.99" stroke="#ffc020" stroke-width="2.05"/>
<path d="M396.5,41.22 H416.4" stroke="#ffc020" stroke-width="2.05"/>
<path clip-path="url(#c)" d="M65.20,125.30 L66.19,125.35 L67.17,125.37 L68.16,125.35 L69.14,125.30 L70.13,125.21 L71.11,125.09 L72.10,124.94 L73.08,124.75 L74.07,124.53 L75.05,124.27 L76.04,123.99 L77.02,123.67 L78.01,123.32 L78.99,122.93 L79.98,122.52 L80.96,122.08 L81.95,121.61 L82.93,121.11 L83.92,120.58 L84.91,120.02 L85.89,119.44 L86.88,118.83 L87.86,118.20 L88.85,117.54 L89.83,116.85 L90.82,116.15 L91.80,115.42 L92.79,114.67 L93.77,113.89 L94.76,113.10 L95.74,112.29 L96.73,111.46 L97.71,110.61 L98.70,109.74 L99.68,108.85 L100.67,107.95 L101.65,107.04 L102.64,106.10 L103.62,105.16 L104.61,104.20 L105.60,103.22 L106.58,102.24 L107.57,101.24 L108.55,100.23 L109.54,99.21 L110.52,98.17 L111.51,97.13 L112.49,96.08 L113.48,95.02 L114.46,93.95 L115.45,92.87 L116.43,91.78 L117.42,90.69 L118.40,89.58 L119.39,88.47 L120.37,87.36 L121.36,86.24 L122.34,85.11 L123.33,83.97 L124.31,82.83 L125.30,81.69 L126.29,80.54 L127.27,79.38 L128.26,78.22 L129.24,77.06 L130.23,75.89 L131.21,74.72 L132.20,73.55 L133.18,72.37 L134.17,71.19 L135.15,70.00 L136.14,68.81 L137.12,67.62 L138.11,66.43 L139.09,65.23 L140.08,64.03 L141.06,62.83 L142.05,61.63 L143.03,60.43 L144.02,59.22 L145.01,58.01 L145.99,56.80 L146.98,55.59 L147.96,54.37 L148.95,53.16 L149.93,51.94 L150.92,50.72 L151.90,49.50 L152.89,48.28 L153.87,47.06 L154.86,45.84 L155.84,44.61 L156.83,43.39 L157.81,42.16 L158.80,40.93 L159.78,39.71 L160.77,38.48 L161.75,37.25 L162.74,36.02 L163.73,34.79 L164.71,33.56 L165.70,32.32 L166.68,31.09 L167.67,29.86 L168.65,28.63 L169.64,27.39 L170.62,26.16 L171.61,24.92 L172.59,23.69 L173.58,22.45 L174.56,21.21 L175.55,19.98 L176.53,18.74 L177.52,17.50 L178.50,16.27 L179.49,15.03 L180.47,13.79 L181.46,12.55 L182.44,11.31 L183.43,10.07 L184.42,8.84 L185.40,7.60 L186.39,6.36 L187.37,5.12 L188.36,3.88 L189.34,2.64 L190.33,1.40 L191.31,0.16 L192.30,-1.08 L193.28,-2.32 L194.27,-3.56 L195.25,-4.80 L196.24,-6.05 L197.22,-7.29 L198.21,-8.53 L199.19,-9.77 L200.18,-11.01 L201.16,-12.25 L202.15,-13.49" stroke="#008040" stroke-width="2.05" stroke-dasharray="3.0 2.5"/>
<path d="M396.5,55.64 H416.4" stroke="#008040" stroke-width="2.05" stroke-dasharray="3.0 2.5"/>
<path clip-path="url(#c)" d="M65.20,125.30 L66.19,125.77 L67.17,126.23 L68.16,126.68 L69.14,127.12 L70.13,127.56 L71.11,127.98 L72.10,128.40 L73.08,128.81 L74.07,129.21 L75.05,129.61 L76.04,130.00 L77.02,130.38 L78.01,130.76 L78.99,131.14 L79.98,131.51 L80.96,131.87 L81.95,132.23 L82.93,132.58 L83.92,132.93 L84.91,133.28 L85.89,133.63 L86.88,133.97 L87.86,134.30 L88.85,134.64 L89.83,134.97 L90.82,135.30 L91.80,135.63 L92.79,135.95 L93.77,136.27 L94.76,136.59 L95.74,136.91 L96.73,137.22 L97.71,137.54 L98.70,137.85 L99.68,138.16 L100.67,138.47 L101.65,138.78 L102.64,139.09 L103.62,139.39 L104.61,139.70 L105.60,140.00 L106.58,140.30 L107.57,140.60 L108.55,140.90 L109.54,141.20 L110.52,141.50 L111.51,141.80 L112.49,142.09 L113.48,142.39 L114.46,142.69 L115.45,142.98 L116.43,143.28 L117.42,143.57 L118.40,143.86 L119.39,144.16 L120.37,144.45 L121.36,144.74 L122.34,145.03 L123.33,145.33 L124.31,145.62 L125.30,145.91 L126.29,146.20 L127.27,146.49 L128.26,146.78 L129.24,147.07 L130.23,147.36 L131.21,147.64 L132.20,147.93 L133.18,148.22 L134.17,148.51 L135.15,148.80 L136.14,149.09 L137.12,149.37 L138.11,149.66 L139.09,149.95 L140.08,150.24 L141.06,150.53 L142.05,150.81 L143.03,151.10 L144.02,151.39 L145.01,151.67 L145.99,151.96 L146.98,152.25 L147.96,152.53 L148.95,152.82 L149.93,153.11 L150.92,153.39 L151.90,153.68 L152.89,153.97 L153.87,154.25 L154.86,154.54 L155.84,154.82 L156.83,155.11 L157.81,155.40 L158.80,155.68 L159.78,155.97 L160.77,156.25 L161.75,156.54 L162.74,156.83 L163.73,157.11 L164.71,157.40 L165.70,157.68 L166.68,157.97 L167.67,158.25 L168.65,158.54 L169.64,158.83 L170.62,159.11 L171.61,159.40 L172.59,159.68 L173.58,159.97 L174.56,160.25 L175.55,160.54 L176.53,160.82 L177.52,161.11 L178.50,161.40 L179.49,161.68 L180.47,161.97 L181.46,162.25 L182.44,162.54 L183.43,162.82 L184.42,163.11 L185.40,163.39 L186.39,163.68 L187.37,163.96 L188.36,164.25 L189.34,164.53 L190.33,164.82 L191.31,165.11 L192.30,165.39 L193.28,165.68 L194.27,165.96 L195.25,166.25 L196.24,166.53 L197.22,166.82 L198.21,167.10 L199.19,167.39 L200.18,167.67 L201.16,167.96 L202.15,168.24 L203.13,168.53 L204.12,168.81 L205.11,169.10 L206.09,169.39 L207.08,169.67 L208.06,169.96 L209.05,170.24 L210.03,170.53 L211.02,170.81 L212.00,171.10 L212.99,171.38 L213.97,171.67 L214.96,171.95 L215.94,172.24 L216.93,172.52 L217.91,172.81 L218.90,173.09 L219.88,173.38 L220.87,173.66 L221.85,173.95 L222.84,174.24 L223.83,174.52 L224.81,174.81 L225.80,175.09 L226.78,175.38 L227.77,175.66 L228.75,175.95 L229.74,176.23 L230.72,176.52 L231.71,176.80 L232.69,177.09 L233.68,177.37 L234.66,177.66 L235.65,177.94 L236.63,178.23 L237.62,178.51 L238.60,178.80 L239.59,179.09 L240.57,179.37 L241.56,179.66 L242.55,179.94 L243.53,180.23 L244.52,180.51 L245.50,180.80 L246.49,181.08 L247.47,181.37 L248.46,181.65 L249.44,181.94 L250.43,182.22 L251.41,182.51 L252.40,182.79 L253.38,183.08 L254.37,183.36 L255.35,183.65 L256.34,183.93 L257.32,184.22 L258.31,184.51 L259.29,184.79 L260.28,185.08 L261.26,185.36 L262.25,185.65 L263.24,185.93 L264.22,186.22 L265.21,186.50 L266.19,186.79 L267.18,187.07 L268.16,187.36 L269.15,187.64 L270.13,187.93 L271.12,188.21 L272.10,188.50 L273.09,188.78 L274.07,189.07 L275.06,189.35 L276.04,189.64 L277.03,189.93 L278.01,190.21 L279.00,190.50 L279.98,190.78 L280.97,191.07 L281.95,191.35 L282.94,191.64 L283.93,191.92 L284.91,192.21 L285.90,192.49 L286.88,192.78 L287.87,193.06 L288.85,193.35 L289.84,193.63 L290.82,193.92 L291.81,194.20 L292.79,194.49 L293.78,194.77 L294.76,195.06 L295.75,195.35 L296.73,195.63 L297.72,195.92 L298.70,196.20 L299.69,196.49 L300.67,196.77 L301.66,197.06 L302.65,197.34 L303.63,197.63 L304.62,197.91 L305.60,198.20 L306.59,198.48 L307.57,198.77 L308.56,199.05 L309.54,199.34 L310.53,199.62 L311.51,199.91 L312.50,200.19 L313.48,200.48 L314.47,200.77 L315.45,201.05 L316.44,201.34 L317.42,201.62 L318.41,201.91 L319.39,202.19 L320.38,202.48 L321.37,202.76 L322.35,203.05 L323.34,203.33 L324.32,203.62 L325.31,203.90 L326.29,204.19 L327.28,204.47 L328.26,204.76 L329.25,205.04 L330.23,205.33 L331.22,205.61 L332.20,205.90 L333.19,206.19 L334.17,206.47 L335.16,206.76 L336.14,207.04 L337.13,207.33 L338.11,207.61 L339.10,207.90 L340.08,208.18 L341.07,208.47 L342.06,208.75 L343.04,209.04 L344.03,209.32 L345.01,209.61 L346.00,209.89 L346.98,210.18 L347.97,210.46 L348.95,210.75 L349.94,211.03 L350.92,211.32 L351.91,211.61 L352.89,211.89 L353.88,212.18 L354.86,212.46 L355.85,212.75 L356.83,213.03 L357.82,213.32 L358.80,213.60 L359.79,213.89 L360.77,214.17 L361.76,214.46 L362.75,214.74 L363.73,215.03 L364.72,215.31 L365.70,215.60 L366.69,215.88 L367.67,216.17 L368.66,216.45 L369.64,216.74 L370.63,217.03 L371.61,217.31 L372.60,217.60 L373.58,217.88 L374.57,218.17 L375.55,218.45 L376.54,218.74 L377.52,219.02 L378.51,219.31 L379.49,219.59 L380.48,219.88 L381.47,220.16 L382.45,220.45 L383.44,220.73 L384.42,221.02 L385.41,221.30 L386.39,221.59 L387.38,221.87 L388.36,222.16 L389.35,222.45 L390.33,222.73 L391.32,223.02 L392.30,223.30 L393.29,223.59 L394.27,223.87 L395.26,224.16 L396.24,224.44 L397.23,224.73 L398.21,225.01 L399.20,225.30 L400.19,225.58 L401.17,225.87 L402.16,226.15 L403.14,226.44 L404.13,226.72 L405.11,227.01 L406.10,227.29 L407.08,227.58 L408.07,227.87 L409.05,228.15 L410.04,228.44 L411.02,228.72 L412.01,229.01 L412.99,229.29 L413.98,229.58 L414.96,229.86 L415.95,230.15 L416.93,230.43 L417.92,230.72 L418.90,231.00 L419.89,231.29 L420.88,231.57 L421.86,231.86 L422.85,232.14 L423.83,232.43 L424.82,232.72 L425.80,233.00 L426.79,233.29 L427.77,233.57 L428.76,233.86 L429.74,234.14 L430.73,234.43 L431.71,234.71 L432.70,235.00 L433.68,235.28 L434.67,235.57 L435.65,235.85 L436.64,236.14 L437.62,236.42 L438.61,236.71 L439.59,236.99 L440.58,237.28 L441.57,237.56 L442.55,237.85 L443.54,238.14 L444.52,238.42 L445.51,238.71 L446.49,238.99 L447.48,239.28 L448.46,239.56 L449.45,239.85 L450.43,240.13 L451.42,240.42 L452.40,240.70 L453.39,240.99 L454.37,241.27 L455.36,241.56 L456.34,241.84 L457.33,242.13 L458.31,242.41 L459.30,242.70" stroke="#b068ff" stroke-width="2.05" stroke-dasharray="1.7 1.7"/>
<path d="M396.5,70.06 H416.4" stroke="#b068ff" stroke-width="2.05" stroke-dasharray="1.7 1.7"/>
<path clip-path="url(#c)" d="M65.20,125.30 L66.19,125.74 L67.17,126.17 L68.16,126.58 L69.14,126.99 L70.13,127.38 L71.11,127.76 L72.10,128.13 L73.08,128.50 L74.07,128.85 L75.05,129.19 L76.04,129.53 L77.02,129.86 L78.01,130.18 L78.99,130.50 L79.98,130.81 L80.96,131.11 L81.95,131.41 L82.93,131.70 L83.92,131.99 L84.91,132.27 L85.89,132.55 L86.88,132.82 L87.86,133.09 L88.85,133.36 L89.83,133.62 L90.82,133.88 L91.80,134.14 L92.79,134.39 L93.77,134.64 L94.76,134.89 L95.74,135.14 L96.73,135.38 L97.71,135.62 L98.70,135.86 L99.68,136.10 L100.67,136.33 L101.65,136.57 L102.64,136.80 L103.62,137.03 L104.61,137.26 L105.60,137.49 L106.58,137.72 L107.57,137.94 L108.55,138.17 L109.54,138.39 L110.52,138.61 L111.51,138.84 L112.49,139.06 L113.48,139.28 L114.46,139.50 L115.45,139.72 L116.43,139.94 L117.42,140.15 L118.40,140.37 L119.39,140.59 L120.37,140.80 L121.36,141.02 L122.34,141.24 L123.33,141.45 L124.31,141.66 L125.30,141.88 L126.29,142.09 L127.27,142.31 L128.26,142.52 L129.24,142.73 L130.23,142.94 L131.21,143.16 L132.20,143.37 L133.18,143.58 L134.17,143.79 L135.15,144.00 L136.14,144.22 L137.12,144.43 L138.11,144.64 L139.09,144.85 L140.08,145.06 L141.06,145.27 L142.05,145.48 L143.03,145.69 L144.02,145.90 L145.01,146.11 L145.99,146.32 L146.98,146.53 L147.96,146.74 L148.95,146.95 L149.93,147.16 L150.92,147.37 L151.90,147.58 L152.89,147.79 L153.87,148.00 L154.86,148.21 L155.84,148.42 L156.83,148.63 L157.81,148.83 L158.80,149.04 L159.78,149.25 L160.77,149.46 L161.75,149.67 L162.74,149.88 L163.73,150.09 L164.71,150.30 L165.70,150.51 L166.68,150.71 L167.67,150.92 L168.65,151.13 L169.64,151.34 L170.62,151.55 L171.61,151.76 L172.59,151.97 L173.58,152.18 L174.56,152.38 L175.55,152.59 L176.53,152.80 L177.52,153.01 L178.50,153.22 L179.49,153.43 L180.47,153.64 L181.46,153.85 L182.44,154.05 L183.43,154.26 L184.42,154.47 L185.40,154.68 L186.39,154.89 L187.37,155.10 L188.36,155.31 L189.34,155.51 L190.33,155.72 L191.31,155.93 L192.30,156.14 L193.28,156.35 L194.27,156.56 L195.25,156.76 L196.24,156.97 L197.22,157.18 L198.21,157.39 L199.19,157.60 L200.18,157.81 L201.16,158.02 L202.15,158.22 L203.13,158.43 L204.12,158.64 L205.11,158.85 L206.09,159.06 L207.08,159.27 L208.06,159.48 L209.05,159.68 L210.03,159.89 L211.02,160.10 L212.00,160.31 L212.99,160.52 L213.97,160.73 L214.96,160.93 L215.94,161.14 L216.93,161.35 L217.91,161.56 L218.90,161.77 L219.88,161.98 L220.87,162.19 L221.85,162.39 L222.84,162.60 L223.83,162.81 L224.81,163.02 L225.80,163.23 L226.78,163.44 L227.77,163.64 L228.75,163.85 L229.74,164.06 L230.72,164.27 L231.71,164.48 L232.69,164.69 L233.68,164.90 L234.66,165.10 L235.65,165.31 L236.63,165.52 L237.62,165.73 L238.60,165.94 L239.59,166.15 L240.57,166.35 L241.56,166.56 L242.55,166.77 L243.53,166.98 L244.52,167.19 L245.50,167.40 L246.49,167.61 L247.47,167.81 L248.46,168.02 L249.44,168.23 L250.43,168.44 L251.41,168.65 L252.40,168.86 L253.38,169.06 L254.37,169.27 L255.35,169.48 L256.34,169.69 L257.32,169.90 L258.31,170.11 L259.29,170.31 L260.28,170.52 L261.26,170.73 L262.25,170.94 L263.24,171.15 L264.22,171.36 L265.21,171.57 L266.19,171.77 L267.18,171.98 L268.16,172.19 L269.15,172.40 L270.13,172.61 L271.12,172.82 L272.10,173.02 L273.09,173.23 L274.07,173.44 L275.06,173.65 L276.04,173.86 L277.03,174.07 L278.01,174.28 L279.00,174.48 L279.98,174.69 L280.97,174.90 L281.95,175.11 L282.94,175.32 L283.93,175.53 L284.91,175.73 L285.90,175.94 L286.88,176.15 L287.87,176.36 L288.85,176.57 L289.84,176.78 L290.82,176.99 L291.81,177.19 L292.79,177.40 L293.78,177.61 L294.76,177.82 L295.75,178.03 L296.73,178.24 L297.72,178.44 L298.70,178.65 L299.69,178.86 L300.67,179.07 L301.66,179.28 L302.65,179.49 L303.63,179.69 L304.62,179.90 L305.60,180.11 L306.59,180.32 L307.57,180.53 L308.56,180.74 L309.54,180.95 L310.53,181.15 L311.51,181.36 L312.50,181.57 L313.48,181.78 L314.47,181.99 L315.45,182.20 L316.44,182.40 L317.42,182.61 L318.41,182.82 L319.39,183.03 L320.38,183.24 L321.37,183.45 L322.35,183.66 L323.34,183.86 L324.32,184.07 L325.31,184.28 L326.29,184.49 L327.28,184.70 L328.26,184.91 L329.25,185.11 L330.23,185.32 L331.22,185.53 L332.20,185.74 L333.19,185.95 L334.17,186.16 L335.16,186.37 L336.14,186.57 L337.13,186.78 L338.11,186.99 L339.10,187.20 L340.08,187.41 L341.07,187.62 L342.06,187.82 L343.04,188.03 L344.03,188.24 L345.01,188.45 L346.00,188.66 L346.98,188.87 L347.97,189.07 L348.95,189.28 L349.94,189.49 L350.92,189.70 L351.91,189.91 L352.89,190.12 L353.88,190.33 L354.86,190.53 L355.85,190.74 L356.83,190.95 L357.82,191.16 L358.80,191.37 L359.79,191.58 L360.77,191.78 L361.76,191.99 L362.75,192.20 L363.73,192.41 L364.72,192.62 L365.70,192.83 L366.69,193.04 L367.67,193.24 L368.66,193.45 L369.64,193.66 L370.63,193.87 L371.61,194.08 L372.60,194.29 L373.58,194.49 L374.57,194.70 L375.55,194.91 L376.54,195.12 L377.52,195.33 L378.51,195.54 L379.49,195.74 L380.48,195.95 L381.47,196.16 L382.45,196.37 L383.44,196.58 L384.42,196.79 L385.41,197.00 L386.39,197.20 L387.38,197.41 L388.36,197.62 L389.35,197.83 L390.33,198.04 L391.32,198.25 L392.30,198.45 L393.29,198.66 L394.27,198.87 L395.26,199.08 L396.24,199.29 L397.23,199.50 L398.21,199.71 L399.20,199.91 L400.19,200.12 L401.17,200.33 L402.16,200.54 L403.14,200.75 L404.13,200.96 L405.11,201.16 L406.10,201.37 L407.08,201.58 L408.07,201.79 L409.05,202.00 L410.04,202.21 L411.02,202.42 L412.01,202.62 L412.99,202.83 L413.98,203.04 L414.96,203.25 L415.95,203.46 L416.93,203.67 L417.92,203.87 L418.90,204.08 L419.89,204.29 L420.88,204.50 L421.86,204.71 L422.85,204.92 L423.83,205.12 L424.82,205.33 L425.80,205.54 L426.79,205.75 L427.77,205.96 L428.76,206.17 L429.74,206.38 L430.73,206.58 L431.71,206.79 L432.70,207.00 L433.68,207.21 L434.67,207.42 L435.65,207.63 L436.64,207.83 L437.62,208.04 L438.61,208.25 L439.59,208.46 L440.58,208.67 L441.57,208.88 L442.55,209.09 L443.54,209.29 L444.52,209.50 L445.51,209.71 L446.49,209.92 L447.48,210.13 L448.46,210.34 L449.45,210.54 L450.43,210.75 L451.42,210.96 L452.40,211.17 L453.39,211.38 L454.37,211.59 L455.36,211.80 L456.34,212.00 L457.33,212.21 L458.31,212.42 L459.30,212.63" stroke="#306080" stroke-width="2.05" stroke-dasharray="1.0 1.3"/>
<path d="M396.5,84.48 H416.4" stroke="#306080" stroke-width="2.05" stroke-dasharray="1.0 1.3"/>
<path clip-path="url(#c)" d="M65.20,125.30 L66.19,125.61 L67.17,125.92 L68.16,126.23 L69.14,126.54 L70.13,126.85 L71.11,127.15 L72.10,127.45 L73.08,127.75 L74.07,128.05 L75.05,128.35 L76.04,128.64 L77.02,128.94 L78.01,129.23 L78.99,129.52 L79.98,129.81 L80.96,130.10 L81.95,130.38 L82.93,130.67 L83.92,130.95 L84.91,131.24 L85.89,131.52 L86.88,131.80 L87.86,132.08 L88.85,132.36 L89.83,132.63 L90.82,132.91 L91.80,133.19 L92.79,133.46 L93.77,133.73 L94.76,134.01 L95.74,134.28 L96.73,134.55 L97.71,134.82 L98.70,135.09 L99.68,135.36 L100.67,135.62 L101.65,135.89 L102.64,136.16 L103.62,136.42 L104.61,136.69 L105.60,136.95 L106.58,137.21 L107.57,137.48 L108.55,137.74 L109.54,138.00 L110.52,138.26 L111.51,138.52 L112.49,138.78 L113.48,139.04 L114.46,139.30 L115.45,139.56 L116.43,139.82 L117.42,140.08 L118.40,140.33 L119.39,140.59 L120.37,140.85 L121.36,141.10 L122.34,141.36 L123.33,141.61 L124.31,141.87 L125.30,142.12 L126.29,142.38 L127.27,142.63 L128.26,142.88 L129.24,143.14 L130.23,143.39 L131.21,143.64 L132.20,143.89 L133.18,144.14 L134.17,144.40 L135.15,144.65 L136.14,144.90 L137.12,145.15 L138.11,145.40 L139.09,145.65 L140.08,145.90 L141.06,146.15 L142.05,146.40 L143.03,146.65 L144.02,146.90 L145.01,147.15 L145.99,147.40 L146.98,147.64 L147.96,147.89 L148.95,148.14 L149.93,148.39 L150.92,148.64 L151.90,148.88 L152.89,149.13 L153.87,149.38 L154.86,149.63 L155.84,149.87 L156.83,150.12 L157.81,150.37 L158.80,150.62 L159.78,150.86 L160.77,151.11 L161.75,151.35 L162.74,151.60 L163.73,151.85 L164.71,152.09 L165.70,152.34 L166.68,152.58 L167.67,152.83 L168.65,153.08 L169.64,153.32 L170.62,153.57 L171.61,153.81 L172.59,154.06 L173.58,154.30 L174.56,154.55 L175.55,154.79 L176.53,155.04 L177.52,155.28 L178.50,155.53 L179.49,155.77 L180.47,156.02 L181.46,156.26 L182.44,156.51 L183.43,156.75 L184.42,157.00 L185.40,157.24 L186.39,157.48 L187.37,157.73 L188.36,157.97 L189.34,158.22 L190.33,158.46 L191.31,158.71 L192.30,158.95 L193.28,159.19 L194.27,159.44 L195.25,159.68 L196.24,159.93 L197.22,160.17 L198.21,160.41 L199.19,160.66 L200.18,160.90 L201.16,161.14 L202.15,161.39 L203.13,161.63 L204.12,161.88 L205.11,162.12 L206.09,162.36 L207.08,162.61 L208.06,162.85 L209.05,163.09 L210.03,163.34 L211.02,163.58 L212.00,163.82 L212.99,164.07 L213.97,164.31 L214.96,164.55 L215.94,164.80 L216.93,165.04 L217.91,165.28 L218.90,165.53 L219.88,165.77 L220.87,166.01 L221.85,166.26 L222.84,166.50 L223.83,166.74 L224.81,166.99 L225.80,167.23 L226.78,167.47 L227.77,167.71 L228.75,167.96 L229.74,168.20 L230.72,168.44 L231.71,168.69 L232.69,168.93 L233.68,169.17 L234.66,169.42 L235.65,169.66 L236.63,169.90 L237.62,170.14 L238.60,170.39 L239.59,170.63 L240.57,170.87 L241.56,171.12 L242.55,171.36 L243.53,171.60 L244.52,171.85 L245.50,172.09 L246.49,172.33 L247.47,172.57 L248.46,172.82 L249.44,173.06 L250.43,173.30 L251.41,173.55 L252.40,173.79 L253.38,174.03 L254.37,174.27 L255.35,174.52 L256.34,174.76 L257.32,175.00 L258.31,175.24 L259.29,175.49 L260.28,175.73 L261.26,175.97 L262.25,176.22 L263.24,176.46 L264.22,176.70 L265.21,176.94 L266.19,177.19 L267.18,177.43 L268.16,177.67 L269.15,177.91 L270.13,178.16 L271.12,178.40 L272.10,178.64 L273.09,178.89 L274.07,179.13 L275.06,179.37 L276.04,179.61 L277.03,179.86 L278.01,180.10 L279.00,180.34 L279.98,180.58 L280.97,180.83 L281.95,181.07 L282.94,181.31 L283.93,181.56 L284.91,181.80 L285.90,182.04 L286.88,182.28 L287.87,182.53 L288.85,182.77 L289.84,183.01 L290.82,183.25 L291.81,183.50 L292.79,183.74 L293.78,183.98 L294.76,184.22 L295.75,184.47 L296.73,184.71 L297.72,184.95 L298.70,185.20 L299.69,185.44 L300.67,185.68 L301.66,185.92 L302.65,186.17 L303.63,186.41 L304.62,186.65 L305.60,186.89 L306.59,187.14 L307.57,187.38 L308.56,187.62 L309.54,187.86 L310.53,188.11 L311.51,188.35 L312.50,188.59 L313.48,188.83 L314.47,189.08 L315.45,189.32 L316.44,189.56 L317.42,189.80 L318.41,190.05 L319.39,190.29 L320.38,190.53 L321.37,190.78 L322.35,191.02 L323.34,191.26 L324.32,191.50 L325.31,191.75 L326.29,191.99 L327.28,192.23 L328.26,192.47 L329.25,192.72 L330.23,192.96 L331.22,193.20 L332.20,193.44 L333.19,193.69 L334.17,193.93 L335.16,194.17 L336.14,194.41 L337.13,194.66 L338.11,194.90 L339.10,195.14 L340.08,195.38 L341.07,195.63 L342.06,195.87 L343.04,196.11 L344.03,196.36 L345.01,196.60 L346.00,196.84 L346.98,197.08 L347.97,197.33 L348.95,197.57 L349.94,197.81 L350.92,198.05 L351.91,198.30 L352.89,198.54 L353.88,198.78 L354.86,199.02 L355.85,199.27 L356.83,199.51 L357.82,199.75 L358.80,199.99 L359.79,200.24 L360.77,200.48 L361.76,200.72 L362.75,200.96 L363.73,201.21 L364.72,201.45 L365.70,201.69 L366.69,201.93 L367.67,202.18 L368.66,202.42 L369.64,202.66 L370.63,202.91 L371.61,203.15 L372.60,203.39 L373.58,203.63 L374.57,203.88 L375.55,204.12 L376.54,204.36 L377.52,204.60 L378.51,204.85 L379.49,205.09 L380.48,205.33 L381.47,205.57 L382.45,205.82 L383.44,206.06 L384.42,206.30 L385.41,206.54 L386.39,206.79 L387.38,207.03 L388.36,207.27 L389.35,207.51 L390.33,207.76 L391.32,208.00 L392.30,208.24 L393.29,208.48 L394.27,208.73 L395.26,208.97 L396.24,209.21 L397.23,209.45 L398.21,209.70 L399.20,209.94 L400.19,210.18 L401.17,210.43 L402.16,210.67 L403.14,210.91 L404.13,211.15 L405.11,211.40 L406.10,211.64 L407.08,211.88 L408.07,212.12 L409.05,212.37 L410.04,212.61 L411.02,212.85 L412.01,213.09 L412.99,213.34 L413.98,213.58 L414.96,213.82 L415.95,214.06 L416.93,214.31 L417.92,214.55 L418.90,214.79 L419.89,215.03 L420.88,215.28 L421.86,215.52 L422.85,215.76 L423.83,216.00 L424.82,216.25 L425.80,216.49 L426.79,216.73 L427.77,216.97 L428.76,217.22 L429.74,217.46 L430.73,217.70 L431.71,217.95 L432.70,218.19 L433.68,218.43 L434.67,218.67 L435.65,218.92 L436.64,219.16 L437.62,219.40 L438.61,219.64 L439.59,219.89 L440.58,220.13 L441.57,220.37 L442.55,220.61 L443.54,220.86 L444.52,221.10 L445.51,221.34 L446.49,221.58 L447.48,221.83 L448.46,222.07 L449.45,222.31 L450.43,222.55 L451.42,222.80 L452.40,223.04 L453.39,223.28 L454.37,223.52 L455.36,223.77 L456.34,224.01 L457.33,224.25 L458.31,224.50 L459.30,224.74" stroke="#ff0000" stroke-width="2.05" stroke-dasharray="4.3 1.1 1.1 1.2"/>
<path d="M396.5,98.90 H416.4" stroke="#ff0000" stroke-width="2.05" stroke-dasharray="4.3 1.1 1.1 1.2"/>
<path clip-path="url(#c)" d="M65.20,125.30 L66.19,125.96 L67.17,126.60 L68.16,127.22 L69.14,127.81 L70.13,128.39 L71.11,128.94 L72.10,129.48 L73.08,129.99 L74.07,130.49 L75.05,130.97 L76.04,131.43 L77.02,131.88 L78.01,132.31 L78.99,132.73 L79.98,133.14 L80.96,133.53 L81.95,133.91 L82.93,134.27 L83.92,134.62 L84.91,134.97 L85.89,135.30 L86.88,135.62 L87.86,135.93 L88.85,136.24 L89.83,136.53 L90.82,136.82 L91.80,137.09 L92.79,137.37 L93.77,137.63 L94.76,137.88 L95.74,138.13 L96.73,138.38 L97.71,138.61 L98.70,138.85 L99.68,139.07 L100.67,139.29 L101.65,139.51 L102.64,139.72 L103.62,139.93 L104.61,140.13 L105.60,140.33 L106.58,140.53 L107.57,140.72 L108.55,140.91 L109.54,141.09 L110.52,141.28 L111.51,141.46 L112.49,141.63 L113.48,141.81 L114.46,141.98 L115.45,142.15 L116.43,142.32 L117.42,142.48 L118.40,142.65 L119.39,142.81 L120.37,142.97 L121.36,143.13 L122.34,143.28 L123.33,143.44 L124.31,143.59 L125.30,143.75 L126.29,143.90 L127.27,144.05 L128.26,144.20 L129.24,144.34 L130.23,144.49 L131.21,144.64 L132.20,144.78 L133.18,144.93 L134.17,145.07 L135.15,145.21 L136.14,145.35 L137.12,145.49 L138.11,145.64 L139.09,145.78 L140.08,145.91 L141.06,146.05 L142.05,146.19 L143.03,146.33 L144.02,146.47 L145.01,146.60 L145.99,146.74 L146.98,146.88 L147.96,147.01 L148.95,147.15 L149.93,147.28 L150.92,147.42 L151.90,147.55 L152.89,147.68 L153.87,147.82 L154.86,147.95 L155.84,148.08 L156.83,148.22 L157.81,148.35 L158.80,148.48 L159.78,148.61 L160.77,148.75 L161.75,148.88 L162.74,149.01 L163.73,149.14 L164.71,149.27 L165.70,149.41 L166.68,149.54 L167.67,149.67 L168.65,149.80 L169.64,149.93 L170.62,150.06 L171.61,150.19 L172.59,150.32 L173.58,150.45 L174.56,150.58 L175.55,150.71 L176.53,150.84 L177.52,150.97 L178.50,151.10 L179.49,151.23 L180.47,151.36 L181.46,151.49 L182.44,151.62 L183.43,151.75 L184.42,151.88 L185.40,152.01 L186.39,152.14 L187.37,152.27 L188.36,152.40 L189.34,152.53 L190.33,152.66 L191.31,152.79 L192.30,152.92 L193.28,153.05 L194.27,153.18 L195.25,153.31 L196.24,153.44 L197.22,153.57 L198.21,153.70 L199.19,153.83 L200.18,153.96 L201.16,154.08 L202.15,154.21 L203.13,154.34 L204.12,154.47 L205.11,154.60 L206.09,154.73 L207.08,154.86 L208.06,154.99 L209.05,155.12 L210.03,155.25 L211.02,155.38 L212.00,155.51 L212.99,155.63 L213.97,155.76 L214.96,155.89 L215.94,156.02 L216.93,156.15 L217.91,156.28 L218.90,156.41 L219.88,156.54 L220.87,156.67 L221.85,156.80 L222.84,156.93 L223.83,157.05 L224.81,157.18 L225.80,157.31 L226.78,157.44 L227.77,157.57 L228.75,157.70 L229.74,157.83 L230.72,157.96 L231.71,158.09 L232.69,158.22 L233.68,158.35 L234.66,158.47 L235.65,158.60 L236.63,158.73 L237.62,158.86 L238.60,158.99 L239.59,159.12 L240.57,159.25 L241.56,159.38 L242.55,159.51 L243.53,159.64 L244.52,159.76 L245.50,159.89 L246.49,160.02 L247.47,160.15 L248.46,160.28 L249.44,160.41 L250.43,160.54 L251.41,160.67 L252.40,160.80 L253.38,160.93 L254.37,161.05 L255.35,161.18 L256.34,161.31 L257.32,161.44 L258.31,161.57 L259.29,161.70 L260.28,161.83 L261.26,161.96 L262.25,162.09 L263.24,162.21 L264.22,162.34 L265.21,162.47 L266.19,162.60 L267.18,162.73 L268.16,162.86 L269.15,162.99 L270.13,163.12 L271.12,163.25 L272.10,163.38 L273.09,163.50 L274.07,163.63 L275.06,163.76 L276.04,163.89 L277.03,164.02 L278.01,164.15 L279.00,164.28 L279.98,164.41 L280.97,164.54 L281.95,164.67 L282.94,164.79 L283.93,164.92 L284.91,165.05 L285.90,165.18 L286.88,165.31 L287.87,165.44 L288.85,165.57 L289.84,165.70 L290.82,165.83 L291.81,165.95 L292.79,166.08 L293.78,166.21 L294.76,166.34 L295.75,166.47 L296.73,166.60 L297.72,166.73 L298.70,166.86 L299.69,166.99 L300.67,167.12 L301.66,167.24 L302.65,167.37 L303.63,167.50 L304.62,167.63 L305.60,167.76 L306.59,167.89 L307.57,168.02 L308.56,168.15 L309.54,168.28 L310.53,168.41 L311.51,168.53 L312.50,168.66 L313.48,168.79 L314.47,168.92 L315.45,169.05 L316.44,169.18 L317.42,169.31 L318.41,169.44 L319.39,169.57 L320.38,169.69 L321.37,169.82 L322.35,169.95 L323.34,170.08 L324.32,170.21 L325.31,170.34 L326.29,170.47 L327.28,170.60 L328.26,170.73 L329.25,170.86 L330.23,170.98 L331.22,171.11 L332.20,171.24 L333.19,171.37 L334.17,171.50 L335.16,171.63 L336.14,171.76 L337.13,171.89 L338.11,172.02 L339.10,172.15 L340.08,172.27 L341.07,172.40 L342.06,172.53 L343.04,172.66 L344.03,172.79 L345.01,172.92 L346.00,173.05 L346.98,173.18 L347.97,173.31 L348.95,173.43 L349.94,173.56 L350.92,173.69 L351.91,173.82 L352.89,173.95 L353.88,174.08 L354.86,174.21 L355.85,174.34 L356.83,174.47 L357.82,174.60 L358.80,174.72 L359.79,174.85 L360.77,174.98 L361.76,175.11 L362.75,175.24 L363.73,175.37 L364.72,175.50 L365.70,175.63 L366.69,175.76 L367.67,175.89 L368.66,176.01 L369.64,176.14 L370.63,176.27 L371.61,176.40 L372.60,176.53 L373.58,176.66 L374.57,176.79 L375.55,176.92 L376.54,177.05 L377.52,177.17 L378.51,177.30 L379.49,177.43 L380.48,177.56 L381.47,177.69 L382.45,177.82 L383.44,177.95 L384.42,178.08 L385.41,178.21 L386.39,178.34 L387.38,178.46 L388.36,178.59 L389.35,178.72 L390.33,178.85 L391.32,178.98 L392.30,179.11 L393.29,179.24 L394.27,179.37 L395.26,179.50 L396.24,179.63 L397.23,179.75 L398.21,179.88 L399.20,180.01 L400.19,180.14 L401.17,180.27 L402.16,180.40 L403.14,180.53 L404.13,180.66 L405.11,180.79 L406.10,180.91 L407.08,181.04 L408.07,181.17 L409.05,181.30 L410.04,181.43 L411.02,181.56 L412.01,181.69 L412.99,181.82 L413.98,181.95 L414.96,182.08 L415.95,182.20 L416.93,182.33 L417.92,182.46 L418.90,182.59 L419.89,182.72 L420.88,182.85 L421.86,182.98 L422.85,183.11 L423.83,183.24 L424.82,183.37 L425.80,183.49 L426.79,183.62 L427.77,183.75 L428.76,183.88 L429.74,184.01 L430.73,184.14 L431.71,184.27 L432.70,184.40 L433.68,184.53 L434.67,184.65 L435.65,184.78 L436.64,184.91 L437.62,185.04 L438.61,185.17 L439.59,185.30 L440.58,185.43 L441.57,185.56 L442.55,185.69 L443.54,185.82 L444.52,185.94 L445.51,186.07 L446.49,186.20 L447.48,186.33 L448.46,186.46 L449.45,186.59 L450.43,186.72 L451.42,186.85 L452.40,186.98 L453.39,187.10 L454.37,187.23 L455.36,187.36 L456.34,187.49 L457.33,187.62 L458.31,187.75 L459.30,187.88" stroke="#00c000" stroke-width="2.05" stroke-dasharray="2.5 1.5 1.1 1.7"/>
<path d="M396.5,113.32 H416.4" stroke="#00c000" stroke-width="2.05" stroke-dasharray="2.5 1.5 1.1 1.7"/>
</g>
<g font-family="Liberation Sans, sans-serif" fill="#000">
<text transform="translate(388.4,30.00) scale(0.94,1)" font-size="14.6" text-anchor="end">ARG</text>
<text transform="translate(388.4,44.42) scale(0.94,1)" font-size="14.6" text-anchor="end">AUS</text>
<text transform="translate(388.4,58.84) scale(0.94,1)" font-size="14.6" text-anchor="end">CAN</text>
<text transform="translate(388.4,73.26) scale(0.94,1)" font-size="14.6" text-anchor="end">CHL</text>
<text transform="translate(388.4,87.68) scale(0.94,1)" font-size="14.6" text-anchor="end">DEU</text>
<text transform="translate(388.4,102.10) scale(0.94,1)" font-size="14.6" text-anchor="end">DNK</text>
<text transform="translate(388.4,116.52) scale(0.94,1)" font-size="14.6" text-anchor="end">ESP</text>
<text transform="translate(450.5,30.00) scale(0.94,1)" font-size="14.6" text-anchor="end">GBR</text>
<text transform="translate(450.5,44.42) scale(0.94,1)" font-size="14.6" text-anchor="end">ITA</text>
<text transform="translate(450.5,58.84) scale(0.94,1)" font-size="14.6" text-anchor="end">JPN</text>
<text transform="translate(450.5,73.26) scale(0.94,1)" font-size="14.6" text-anchor="end">NLD</text>
<text transform="translate(450.5,87.68) scale(0.94,1)" font-size="14.6" text-anchor="end">SWE</text>
<text transform="translate(450.5,102.10) scale(0.94,1)" font-size="14.6" text-anchor="end">USA</text>
<text transform="translate(450.5,116.52) scale(0.94,1)" font-size="14.6" text-anchor="end">ZAF</text>
<text x="67.30" y="254.6" font-size="15.6" text-anchor="middle">0</text>
<text x="146.12" y="254.6" font-size="15.6" text-anchor="middle">20</text>
<text x="224.94" y="254.6" font-size="15.6" text-anchor="middle">40</text>
<text x="303.76" y="254.6" font-size="15.6" text-anchor="middle">60</text>
<text x="382.58" y="254.6" font-size="15.6" text-anchor="middle">80</text>
<text x="461.40" y="254.6" font-size="15.6" text-anchor="middle">100</text>
<text x="32.7" y="20.7" font-size="15.6">10<tspan dy="-6.7" font-size="11.5">1</tspan></text>
<text x="32.7" y="129.0" font-size="15.6">10<tspan dy="-6.7" font-size="11.5">0</tspan></text>
<text x="28.6" y="236.4" font-size="15.6">10<tspan dy="-6.7" font-size="11.5">-1</tspan></text>
<text x="261.8" y="279.6" font-size="15" text-anchor="middle">t (years)</text>
<text transform="translate(14.5,124.7) rotate(-90)" font-size="16" text-anchor="middle">D(t)</text>
</g>
<g fill="#fff">
<rect x="448.8" y="252.9" width="3.635" height="2.30"/><rect x="453.776" y="252.9" width="3.424" height="2.30"/>
<rect x="32.8" y="18.9" width="3.875" height="2.30"/><rect x="38.047" y="18.9" width="3.153" height="2.30"/>
<rect x="32.8" y="126.9" width="3.875" height="2.30"/><rect x="38.047" y="126.9" width="3.153" height="2.30"/>
<rect x="28.8" y="233.9" width="3.635" height="2.30"/><rect x="33.776" y="233.9" width="3.424" height="2.30"/>
<rect x="50.8" y="12.9" width="2.090" height="1.30"/><rect x="53.89" y="12.9" width="2.310" height="1.30"/>
<rect x="49.8" y="228.9" width="2.840" height="1.30"/><rect x="53.64" y="228.9" width="2.560" height="1.30"/>
</g>
</svg>
</body></html>
